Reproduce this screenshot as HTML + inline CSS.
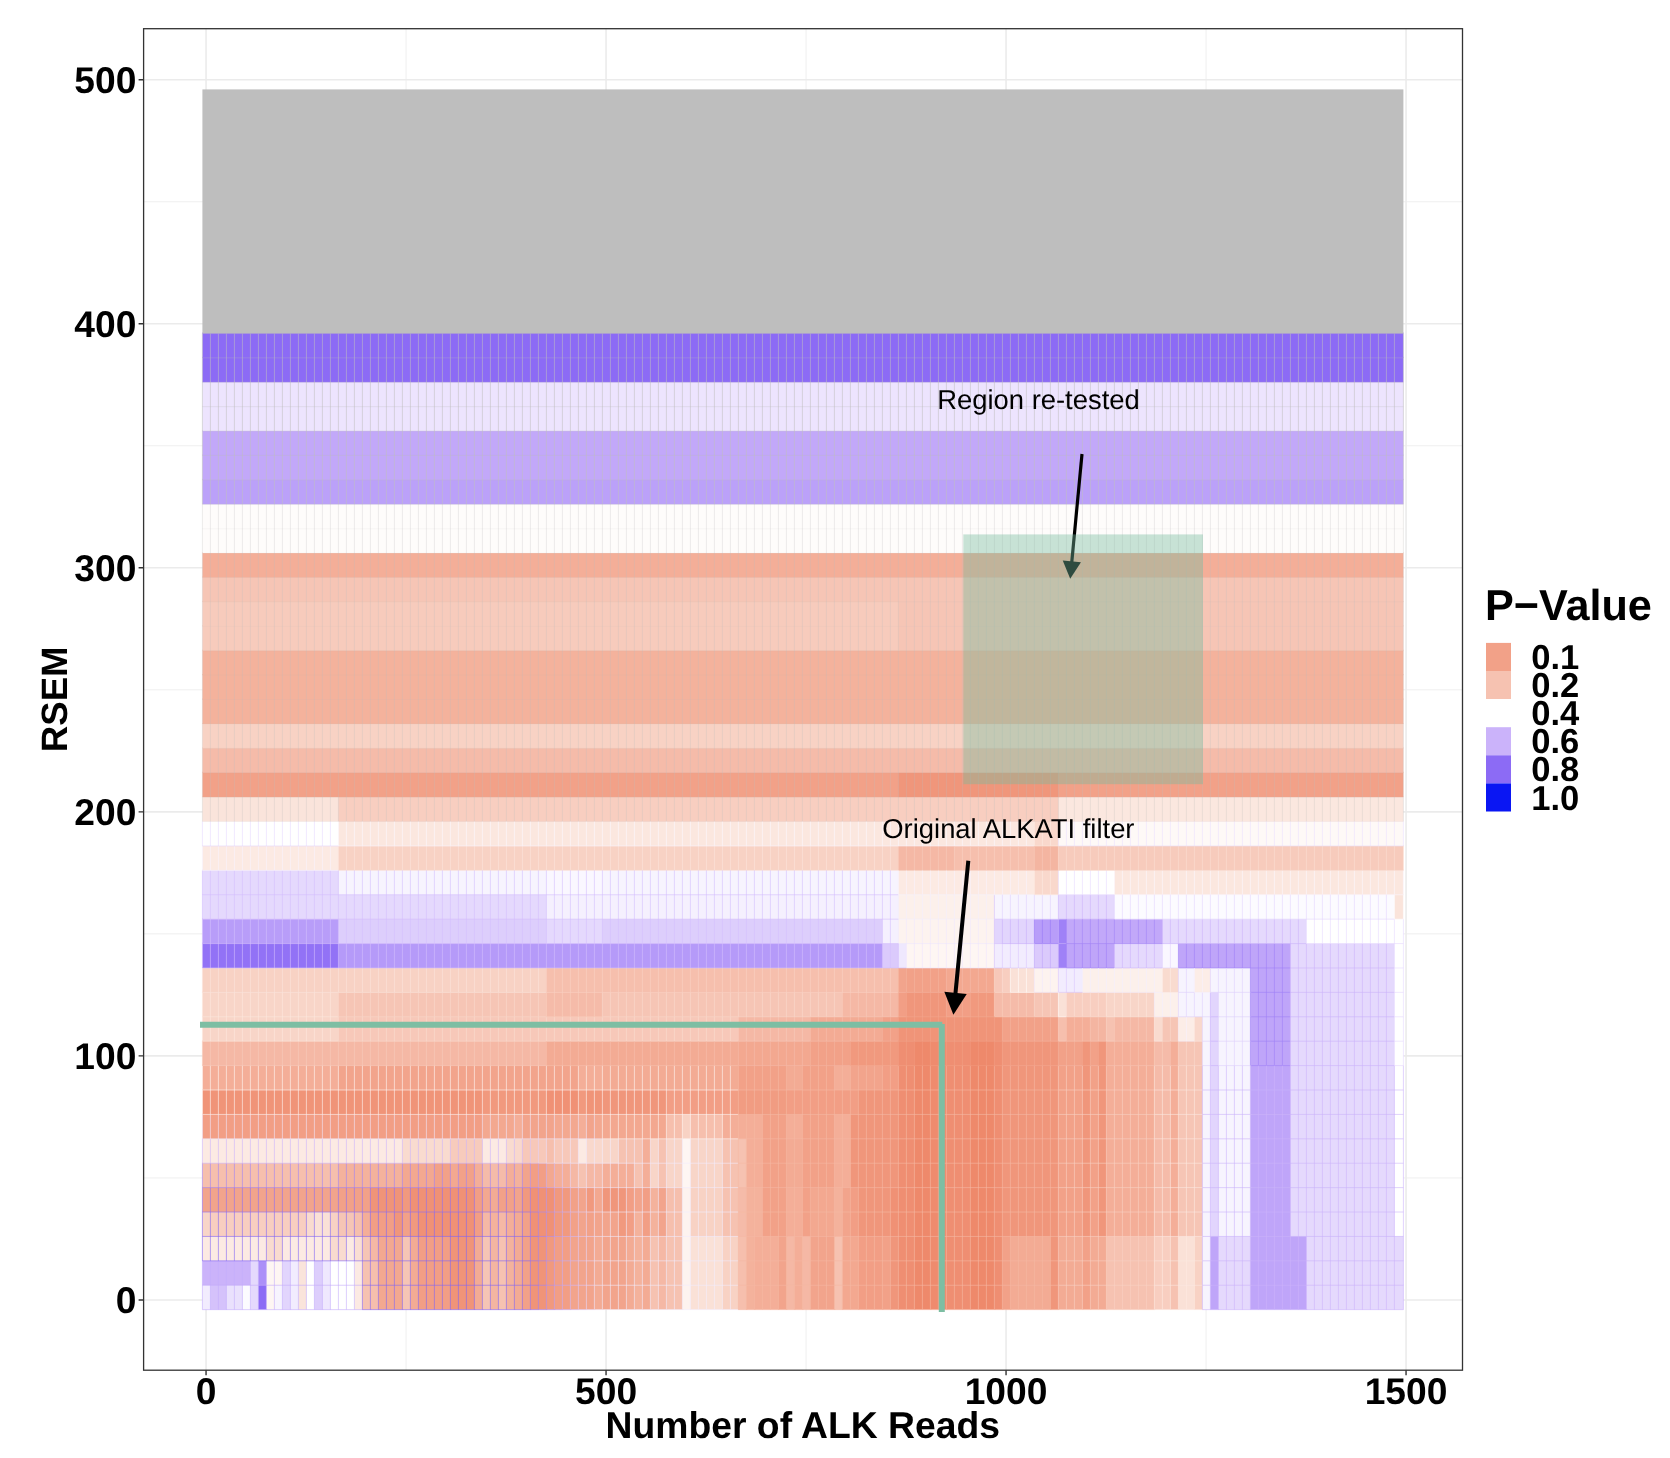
<!DOCTYPE html>
<html><head><meta charset="utf-8"><title>P-Value heatmap</title>
<style>
html,body{margin:0;padding:0;background:#fff}
svg{display:block}
text{font-family:"Liberation Sans",Arial,Helvetica,sans-serif;text-rendering:geometricPrecision}
svg{will-change:transform}
.b{font-weight:bold}
</style></head><body>
<svg width="1670" height="1458" viewBox="0 0 1670 1458">
<rect width="1670" height="1458" fill="#fff"/>
<g stroke="#ebebeb" fill="none">
<path stroke-width="0.8" d="M406.05 28.7V1370.2M806.05 28.7V1370.2M1206.05 28.7V1370.2M143.6 1177.91H1462.5M143.6 933.87H1462.5M143.6 689.82H1462.5M143.6 445.76H1462.5M143.6 201.71H1462.5"/>
<path stroke-width="1.6" d="M206.05 28.7V1370.2M606.05 28.7V1370.2M1006.05 28.7V1370.2M1406.05 28.7V1370.2M143.6 1299.94H1462.5M143.6 1055.89H1462.5M143.6 811.84H1462.5M143.6 567.79H1462.5M143.6 323.74H1462.5M143.6 79.69H1462.5"/>
</g>
<g id="tiles">
<rect x="202.4" y="1284.25" width="9" height="25.41" fill="#f2ecfe"/>
<rect x="210.4" y="1284.25" width="17" height="25.41" fill="#d5c2fb"/>
<rect x="226.4" y="1284.25" width="17" height="25.41" fill="#eae1fd"/>
<rect x="242.4" y="1284.25" width="9" height="25.41" fill="#fcfbff"/>
<rect x="250.4" y="1284.25" width="9" height="25.41" fill="#e5d9fd"/>
<rect x="258.4" y="1284.25" width="9" height="25.41" fill="#8c6bf5"/>
<rect x="266.4" y="1284.25" width="9" height="25.41" fill="#fef6f3"/>
<rect x="274.4" y="1284.25" width="9" height="25.41" fill="#f7f4fe"/>
<rect x="282.4" y="1284.25" width="9" height="25.41" fill="#e2d5fd"/>
<rect x="290.4" y="1284.25" width="9" height="25.41" fill="#f2ecfe"/>
<rect x="298.4" y="1284.25" width="9" height="25.41" fill="#fae4db"/>
<rect x="306.4" y="1284.25" width="9" height="25.41" fill="#ffffff"/>
<rect x="314.4" y="1284.25" width="9" height="25.41" fill="#ddcefc"/>
<rect x="322.4" y="1284.25" width="9" height="25.41" fill="#efe8fe"/>
<rect x="330.4" y="1284.25" width="25" height="25.41" fill="#ffffff"/>
<rect x="354.4" y="1284.25" width="9" height="25.41" fill="#fceae3"/>
<rect x="362.4" y="1284.25" width="9" height="25.41" fill="#f6c2b1"/>
<rect x="370.4" y="1284.25" width="9" height="25.41" fill="#f6bfad"/>
<rect x="378.4" y="1284.25" width="25" height="25.41" fill="#f3a890"/>
<rect x="402.4" y="1284.25" width="9" height="25.41" fill="#f6c5b5"/>
<rect x="410.4" y="1284.25" width="9" height="25.41" fill="#f3ab94"/>
<rect x="418.4" y="1284.25" width="33" height="25.41" fill="#f29e85"/>
<rect x="450.4" y="1284.25" width="25" height="25.41" fill="#f09478"/>
<rect x="474.4" y="1284.25" width="9" height="25.41" fill="#f3ab94"/>
<rect x="482.4" y="1284.25" width="9" height="25.41" fill="#f6c5b5"/>
<rect x="490.4" y="1284.25" width="9" height="25.41" fill="#f4b5a1"/>
<rect x="498.4" y="1284.25" width="9" height="25.41" fill="#f6c2b1"/>
<rect x="506.4" y="1284.25" width="9" height="25.41" fill="#f4b29c"/>
<rect x="514.4" y="1284.25" width="9" height="25.41" fill="#f3ab94"/>
<rect x="522.4" y="1284.25" width="9" height="25.41" fill="#f2a188"/>
<rect x="530.4" y="1284.25" width="17" height="25.41" fill="#f09478"/>
<rect x="546.4" y="1284.25" width="9" height="25.41" fill="#f1997e"/>
<rect x="554.4" y="1284.25" width="17" height="25.41" fill="#f29e85"/>
<rect x="570.4" y="1284.25" width="25" height="25.41" fill="#f2a48c"/>
<rect x="594.4" y="1284.25" width="9" height="25.41" fill="#f3ab94"/>
<rect x="602.4" y="1284.25" width="25" height="25.41" fill="#f2a48c"/>
<rect x="626.4" y="1284.25" width="9" height="25.41" fill="#f3ab94"/>
<rect x="634.4" y="1284.25" width="9" height="25.41" fill="#f4b29c"/>
<rect x="642.4" y="1284.25" width="9" height="25.41" fill="#f3ab94"/>
<rect x="650.4" y="1284.25" width="9" height="25.41" fill="#f6c2b1"/>
<rect x="658.4" y="1284.25" width="9" height="25.41" fill="#f5b8a5"/>
<rect x="666.4" y="1284.25" width="17" height="25.41" fill="#f6c2b1"/>
<rect x="682.4" y="1284.25" width="9" height="25.41" fill="#fdf3ef"/>
<rect x="690.4" y="1284.25" width="33" height="25.41" fill="#fae1d7"/>
<rect x="722.4" y="1284.25" width="17" height="25.41" fill="#f8d2c4"/>
<rect x="738.4" y="1284.25" width="9" height="25.41" fill="#f6bfad"/>
<rect x="746.4" y="1284.25" width="9" height="25.41" fill="#f4b29c"/>
<rect x="754.4" y="1284.25" width="25" height="25.41" fill="#f4ae98"/>
<rect x="778.4" y="1284.25" width="9" height="25.41" fill="#f2a48c"/>
<rect x="786.4" y="1284.25" width="9" height="25.41" fill="#f5b8a5"/>
<rect x="794.4" y="1284.25" width="9" height="25.41" fill="#f4ae98"/>
<rect x="802.4" y="1284.25" width="9" height="25.41" fill="#f5b8a5"/>
<rect x="810.4" y="1284.25" width="25" height="25.41" fill="#f2a48c"/>
<rect x="834.4" y="1284.25" width="9" height="25.41" fill="#f6c2b1"/>
<rect x="842.4" y="1284.25" width="17" height="25.41" fill="#f3a890"/>
<rect x="858.4" y="1284.25" width="25" height="25.41" fill="#f29e85"/>
<rect x="882.4" y="1284.25" width="9" height="25.41" fill="#f2a188"/>
<rect x="890.4" y="1284.25" width="9" height="25.41" fill="#f0967b"/>
<rect x="898.4" y="1284.25" width="17" height="25.41" fill="#ef8e72"/>
<rect x="914.4" y="1284.25" width="17" height="25.41" fill="#ee896b"/>
<rect x="930.4" y="1284.25" width="17" height="25.41" fill="#ef8b6e"/>
<rect x="946.4" y="1284.25" width="25" height="25.41" fill="#ef8e72"/>
<rect x="970.4" y="1284.25" width="25" height="25.41" fill="#ee896b"/>
<rect x="994.4" y="1284.25" width="9" height="25.41" fill="#ef8e72"/>
<rect x="1002.4" y="1284.25" width="9" height="25.41" fill="#f2a188"/>
<rect x="1010.4" y="1284.25" width="41" height="25.41" fill="#f3ab94"/>
<rect x="1050.4" y="1284.25" width="9" height="25.41" fill="#f0967b"/>
<rect x="1058.4" y="1284.25" width="25" height="25.41" fill="#f3ab94"/>
<rect x="1082.4" y="1284.25" width="9" height="25.41" fill="#f2a188"/>
<rect x="1090.4" y="1284.25" width="17" height="25.41" fill="#f3ab94"/>
<rect x="1106.4" y="1284.25" width="49" height="25.41" fill="#f6c2b1"/>
<rect x="1154.4" y="1284.25" width="17" height="25.41" fill="#f8cec0"/>
<rect x="1170.4" y="1284.25" width="9" height="25.41" fill="#f6c2b1"/>
<rect x="1178.4" y="1284.25" width="17" height="25.41" fill="#fae1d7"/>
<rect x="1194.4" y="1284.25" width="9" height="25.41" fill="#f8d2c4"/>
<rect x="1202.4" y="1284.25" width="9" height="25.41" fill="#f7f4fe"/>
<rect x="1210.4" y="1284.25" width="9" height="25.41" fill="#bfa5f9"/>
<rect x="1218.4" y="1284.25" width="33" height="25.41" fill="#e5d9fd"/>
<rect x="1250.4" y="1284.25" width="57" height="25.41" fill="#bfa5f9"/>
<rect x="1306.4" y="1284.25" width="97" height="25.41" fill="#e5d9fd"/>
<rect x="202.4" y="1259.84" width="49" height="25.41" fill="#cbb3fa"/>
<rect x="250.4" y="1259.84" width="9" height="25.41" fill="#e5d9fd"/>
<rect x="258.4" y="1259.84" width="9" height="25.41" fill="#ac8ff8"/>
<rect x="266.4" y="1259.84" width="17" height="25.41" fill="#fef6f3"/>
<rect x="282.4" y="1259.84" width="9" height="25.41" fill="#e2d5fd"/>
<rect x="290.4" y="1259.84" width="9" height="25.41" fill="#f2ecfe"/>
<rect x="298.4" y="1259.84" width="9" height="25.41" fill="#fae4db"/>
<rect x="306.4" y="1259.84" width="9" height="25.41" fill="#ffffff"/>
<rect x="314.4" y="1259.84" width="9" height="25.41" fill="#ddcefc"/>
<rect x="322.4" y="1259.84" width="9" height="25.41" fill="#efe8fe"/>
<rect x="330.4" y="1259.84" width="25" height="25.41" fill="#ffffff"/>
<rect x="354.4" y="1259.84" width="9" height="25.41" fill="#fceae3"/>
<rect x="362.4" y="1259.84" width="9" height="25.41" fill="#f6c2b1"/>
<rect x="370.4" y="1259.84" width="9" height="25.41" fill="#f6bfad"/>
<rect x="378.4" y="1259.84" width="25" height="25.41" fill="#f3a890"/>
<rect x="402.4" y="1259.84" width="9" height="25.41" fill="#f6c5b5"/>
<rect x="410.4" y="1259.84" width="9" height="25.41" fill="#f3ab94"/>
<rect x="418.4" y="1259.84" width="33" height="25.41" fill="#f29e85"/>
<rect x="450.4" y="1259.84" width="25" height="25.41" fill="#f09478"/>
<rect x="474.4" y="1259.84" width="9" height="25.41" fill="#f3ab94"/>
<rect x="482.4" y="1259.84" width="9" height="25.41" fill="#f6c5b5"/>
<rect x="490.4" y="1259.84" width="9" height="25.41" fill="#f4b5a1"/>
<rect x="498.4" y="1259.84" width="9" height="25.41" fill="#f6c2b1"/>
<rect x="506.4" y="1259.84" width="9" height="25.41" fill="#f4b29c"/>
<rect x="514.4" y="1259.84" width="9" height="25.41" fill="#f3ab94"/>
<rect x="522.4" y="1259.84" width="9" height="25.41" fill="#f2a188"/>
<rect x="530.4" y="1259.84" width="17" height="25.41" fill="#f09478"/>
<rect x="546.4" y="1259.84" width="9" height="25.41" fill="#f1997e"/>
<rect x="554.4" y="1259.84" width="17" height="25.41" fill="#f29e85"/>
<rect x="570.4" y="1259.84" width="25" height="25.41" fill="#f2a48c"/>
<rect x="594.4" y="1259.84" width="9" height="25.41" fill="#f3ab94"/>
<rect x="602.4" y="1259.84" width="25" height="25.41" fill="#f2a48c"/>
<rect x="626.4" y="1259.84" width="9" height="25.41" fill="#f3ab94"/>
<rect x="634.4" y="1259.84" width="9" height="25.41" fill="#f4b29c"/>
<rect x="642.4" y="1259.84" width="9" height="25.41" fill="#f3ab94"/>
<rect x="650.4" y="1259.84" width="9" height="25.41" fill="#f6c2b1"/>
<rect x="658.4" y="1259.84" width="9" height="25.41" fill="#f5b8a5"/>
<rect x="666.4" y="1259.84" width="17" height="25.41" fill="#f6c2b1"/>
<rect x="682.4" y="1259.84" width="9" height="25.41" fill="#fdf3ef"/>
<rect x="690.4" y="1259.84" width="33" height="25.41" fill="#fae1d7"/>
<rect x="722.4" y="1259.84" width="17" height="25.41" fill="#f8d2c4"/>
<rect x="738.4" y="1259.84" width="9" height="25.41" fill="#f6bfad"/>
<rect x="746.4" y="1259.84" width="9" height="25.41" fill="#f4b29c"/>
<rect x="754.4" y="1259.84" width="25" height="25.41" fill="#f4ae98"/>
<rect x="778.4" y="1259.84" width="9" height="25.41" fill="#f2a48c"/>
<rect x="786.4" y="1259.84" width="9" height="25.41" fill="#f5b8a5"/>
<rect x="794.4" y="1259.84" width="9" height="25.41" fill="#f4ae98"/>
<rect x="802.4" y="1259.84" width="9" height="25.41" fill="#f5b8a5"/>
<rect x="810.4" y="1259.84" width="25" height="25.41" fill="#f2a48c"/>
<rect x="834.4" y="1259.84" width="9" height="25.41" fill="#f6c2b1"/>
<rect x="842.4" y="1259.84" width="17" height="25.41" fill="#f3a890"/>
<rect x="858.4" y="1259.84" width="25" height="25.41" fill="#f29e85"/>
<rect x="882.4" y="1259.84" width="9" height="25.41" fill="#f2a188"/>
<rect x="890.4" y="1259.84" width="9" height="25.41" fill="#f0967b"/>
<rect x="898.4" y="1259.84" width="17" height="25.41" fill="#ef8e72"/>
<rect x="914.4" y="1259.84" width="17" height="25.41" fill="#ee896b"/>
<rect x="930.4" y="1259.84" width="17" height="25.41" fill="#ef8b6e"/>
<rect x="946.4" y="1259.84" width="25" height="25.41" fill="#ef8e72"/>
<rect x="970.4" y="1259.84" width="25" height="25.41" fill="#ee896b"/>
<rect x="994.4" y="1259.84" width="9" height="25.41" fill="#ef8e72"/>
<rect x="1002.4" y="1259.84" width="9" height="25.41" fill="#f2a188"/>
<rect x="1010.4" y="1259.84" width="41" height="25.41" fill="#f3ab94"/>
<rect x="1050.4" y="1259.84" width="9" height="25.41" fill="#f0967b"/>
<rect x="1058.4" y="1259.84" width="25" height="25.41" fill="#f3ab94"/>
<rect x="1082.4" y="1259.84" width="9" height="25.41" fill="#f2a188"/>
<rect x="1090.4" y="1259.84" width="17" height="25.41" fill="#f3ab94"/>
<rect x="1106.4" y="1259.84" width="49" height="25.41" fill="#f6c2b1"/>
<rect x="1154.4" y="1259.84" width="17" height="25.41" fill="#f8cec0"/>
<rect x="1170.4" y="1259.84" width="9" height="25.41" fill="#f6c2b1"/>
<rect x="1178.4" y="1259.84" width="17" height="25.41" fill="#fae1d7"/>
<rect x="1194.4" y="1259.84" width="9" height="25.41" fill="#f8d2c4"/>
<rect x="1202.4" y="1259.84" width="9" height="25.41" fill="#f7f4fe"/>
<rect x="1210.4" y="1259.84" width="9" height="25.41" fill="#bfa5f9"/>
<rect x="1218.4" y="1259.84" width="33" height="25.41" fill="#e5d9fd"/>
<rect x="1250.4" y="1259.84" width="57" height="25.41" fill="#bfa5f9"/>
<rect x="1306.4" y="1259.84" width="97" height="25.41" fill="#e5d9fd"/>
<rect x="202.4" y="1235.44" width="65" height="25.41" fill="#fceae3"/>
<rect x="266.4" y="1235.44" width="17" height="25.41" fill="#f9dbcf"/>
<rect x="282.4" y="1235.44" width="49" height="25.41" fill="#fceae3"/>
<rect x="330.4" y="1235.44" width="17" height="25.41" fill="#f9dbcf"/>
<rect x="346.4" y="1235.44" width="9" height="25.41" fill="#fceae3"/>
<rect x="354.4" y="1235.44" width="9" height="25.41" fill="#faded3"/>
<rect x="362.4" y="1235.44" width="9" height="25.41" fill="#f6c5b5"/>
<rect x="370.4" y="1235.44" width="9" height="25.41" fill="#f5b8a5"/>
<rect x="378.4" y="1235.44" width="25" height="25.41" fill="#f3a890"/>
<rect x="402.4" y="1235.44" width="9" height="25.41" fill="#f6c5b5"/>
<rect x="410.4" y="1235.44" width="9" height="25.41" fill="#f3ab94"/>
<rect x="418.4" y="1235.44" width="33" height="25.41" fill="#f29e85"/>
<rect x="450.4" y="1235.44" width="25" height="25.41" fill="#f09478"/>
<rect x="474.4" y="1235.44" width="9" height="25.41" fill="#f3ab94"/>
<rect x="482.4" y="1235.44" width="9" height="25.41" fill="#f6c5b5"/>
<rect x="490.4" y="1235.44" width="9" height="25.41" fill="#f4b5a1"/>
<rect x="498.4" y="1235.44" width="9" height="25.41" fill="#f6c2b1"/>
<rect x="506.4" y="1235.44" width="9" height="25.41" fill="#f4b29c"/>
<rect x="514.4" y="1235.44" width="9" height="25.41" fill="#f3ab94"/>
<rect x="522.4" y="1235.44" width="9" height="25.41" fill="#f2a188"/>
<rect x="530.4" y="1235.44" width="17" height="25.41" fill="#f09478"/>
<rect x="546.4" y="1235.44" width="9" height="25.41" fill="#f1997e"/>
<rect x="554.4" y="1235.44" width="17" height="25.41" fill="#f29e85"/>
<rect x="570.4" y="1235.44" width="25" height="25.41" fill="#f2a48c"/>
<rect x="594.4" y="1235.44" width="9" height="25.41" fill="#f3ab94"/>
<rect x="602.4" y="1235.44" width="25" height="25.41" fill="#f2a48c"/>
<rect x="626.4" y="1235.44" width="9" height="25.41" fill="#f3ab94"/>
<rect x="634.4" y="1235.44" width="9" height="25.41" fill="#f4b29c"/>
<rect x="642.4" y="1235.44" width="9" height="25.41" fill="#f3ab94"/>
<rect x="650.4" y="1235.44" width="9" height="25.41" fill="#f6c2b1"/>
<rect x="658.4" y="1235.44" width="9" height="25.41" fill="#f5b8a5"/>
<rect x="666.4" y="1235.44" width="17" height="25.41" fill="#f6c2b1"/>
<rect x="682.4" y="1235.44" width="9" height="25.41" fill="#fdf3ef"/>
<rect x="690.4" y="1235.44" width="33" height="25.41" fill="#fae1d7"/>
<rect x="722.4" y="1235.44" width="17" height="25.41" fill="#f8d2c4"/>
<rect x="738.4" y="1235.44" width="9" height="25.41" fill="#f6bfad"/>
<rect x="746.4" y="1235.44" width="9" height="25.41" fill="#f4b29c"/>
<rect x="754.4" y="1235.44" width="25" height="25.41" fill="#f4ae98"/>
<rect x="778.4" y="1235.44" width="9" height="25.41" fill="#f2a48c"/>
<rect x="786.4" y="1235.44" width="9" height="25.41" fill="#f5b8a5"/>
<rect x="794.4" y="1235.44" width="9" height="25.41" fill="#f4ae98"/>
<rect x="802.4" y="1235.44" width="9" height="25.41" fill="#f5b8a5"/>
<rect x="810.4" y="1235.44" width="25" height="25.41" fill="#f2a48c"/>
<rect x="834.4" y="1235.44" width="9" height="25.41" fill="#f6c2b1"/>
<rect x="842.4" y="1235.44" width="17" height="25.41" fill="#f3a890"/>
<rect x="858.4" y="1235.44" width="25" height="25.41" fill="#f29e85"/>
<rect x="882.4" y="1235.44" width="9" height="25.41" fill="#f2a188"/>
<rect x="890.4" y="1235.44" width="9" height="25.41" fill="#f0967b"/>
<rect x="898.4" y="1235.44" width="17" height="25.41" fill="#ef8e72"/>
<rect x="914.4" y="1235.44" width="17" height="25.41" fill="#ee896b"/>
<rect x="930.4" y="1235.44" width="17" height="25.41" fill="#ef8b6e"/>
<rect x="946.4" y="1235.44" width="25" height="25.41" fill="#ef8e72"/>
<rect x="970.4" y="1235.44" width="25" height="25.41" fill="#ee896b"/>
<rect x="994.4" y="1235.44" width="9" height="25.41" fill="#ef8e72"/>
<rect x="1002.4" y="1235.44" width="9" height="25.41" fill="#f2a188"/>
<rect x="1010.4" y="1235.44" width="41" height="25.41" fill="#f3ab94"/>
<rect x="1050.4" y="1235.44" width="9" height="25.41" fill="#f0967b"/>
<rect x="1058.4" y="1235.44" width="25" height="25.41" fill="#f3ab94"/>
<rect x="1082.4" y="1235.44" width="9" height="25.41" fill="#f2a188"/>
<rect x="1090.4" y="1235.44" width="17" height="25.41" fill="#f3ab94"/>
<rect x="1106.4" y="1235.44" width="49" height="25.41" fill="#f6c2b1"/>
<rect x="1154.4" y="1235.44" width="17" height="25.41" fill="#f8cec0"/>
<rect x="1170.4" y="1235.44" width="9" height="25.41" fill="#f6c2b1"/>
<rect x="1178.4" y="1235.44" width="17" height="25.41" fill="#fae1d7"/>
<rect x="1194.4" y="1235.44" width="9" height="25.41" fill="#f8d2c4"/>
<rect x="1202.4" y="1235.44" width="9" height="25.41" fill="#f7f4fe"/>
<rect x="1210.4" y="1235.44" width="9" height="25.41" fill="#bfa5f9"/>
<rect x="1218.4" y="1235.44" width="33" height="25.41" fill="#e5d9fd"/>
<rect x="1250.4" y="1235.44" width="57" height="25.41" fill="#bfa5f9"/>
<rect x="1306.4" y="1235.44" width="97" height="25.41" fill="#e5d9fd"/>
<rect x="202.4" y="1211.03" width="9" height="25.41" fill="#f8d5c8"/>
<rect x="210.4" y="1211.03" width="97" height="25.41" fill="#f8cec0"/>
<rect x="306.4" y="1211.03" width="9" height="25.41" fill="#f9dbcf"/>
<rect x="314.4" y="1211.03" width="17" height="25.41" fill="#fae1d7"/>
<rect x="330.4" y="1211.03" width="9" height="25.41" fill="#f8d2c4"/>
<rect x="338.4" y="1211.03" width="17" height="25.41" fill="#f6c5b5"/>
<rect x="354.4" y="1211.03" width="9" height="25.41" fill="#f6bfad"/>
<rect x="362.4" y="1211.03" width="9" height="25.41" fill="#f4ae98"/>
<rect x="370.4" y="1211.03" width="25" height="25.41" fill="#f29e85"/>
<rect x="394.4" y="1211.03" width="9" height="25.41" fill="#f0967b"/>
<rect x="402.4" y="1211.03" width="9" height="25.41" fill="#f2a188"/>
<rect x="410.4" y="1211.03" width="9" height="25.41" fill="#f1997e"/>
<rect x="418.4" y="1211.03" width="57" height="25.41" fill="#f09175"/>
<rect x="474.4" y="1211.03" width="9" height="25.41" fill="#f29e85"/>
<rect x="482.4" y="1211.03" width="9" height="25.41" fill="#f5b8a5"/>
<rect x="490.4" y="1211.03" width="9" height="25.41" fill="#f4b29c"/>
<rect x="498.4" y="1211.03" width="9" height="25.41" fill="#f5b8a5"/>
<rect x="506.4" y="1211.03" width="9" height="25.41" fill="#f4ae98"/>
<rect x="514.4" y="1211.03" width="9" height="25.41" fill="#f3ab94"/>
<rect x="522.4" y="1211.03" width="9" height="25.41" fill="#f2a188"/>
<rect x="530.4" y="1211.03" width="25" height="25.41" fill="#f09175"/>
<rect x="554.4" y="1211.03" width="17" height="25.41" fill="#f1997e"/>
<rect x="570.4" y="1211.03" width="9" height="25.41" fill="#f2a188"/>
<rect x="578.4" y="1211.03" width="9" height="25.41" fill="#f2a48c"/>
<rect x="586.4" y="1211.03" width="9" height="25.41" fill="#f2a188"/>
<rect x="594.4" y="1211.03" width="25" height="25.41" fill="#f2a48c"/>
<rect x="618.4" y="1211.03" width="9" height="25.41" fill="#f1997e"/>
<rect x="626.4" y="1211.03" width="9" height="25.41" fill="#f29e85"/>
<rect x="634.4" y="1211.03" width="9" height="25.41" fill="#f4b29c"/>
<rect x="642.4" y="1211.03" width="9" height="25.41" fill="#f29e85"/>
<rect x="650.4" y="1211.03" width="9" height="25.41" fill="#f4b29c"/>
<rect x="658.4" y="1211.03" width="9" height="25.41" fill="#f2a48c"/>
<rect x="666.4" y="1211.03" width="17" height="25.41" fill="#f6bfad"/>
<rect x="682.4" y="1211.03" width="9" height="25.41" fill="#fdf3ef"/>
<rect x="690.4" y="1211.03" width="33" height="25.41" fill="#f8d2c4"/>
<rect x="722.4" y="1211.03" width="17" height="25.41" fill="#f6c2b1"/>
<rect x="738.4" y="1211.03" width="9" height="25.41" fill="#f5bba9"/>
<rect x="746.4" y="1211.03" width="17" height="25.41" fill="#f4b29c"/>
<rect x="762.4" y="1211.03" width="25" height="25.41" fill="#f2a188"/>
<rect x="786.4" y="1211.03" width="17" height="25.41" fill="#f4ae98"/>
<rect x="802.4" y="1211.03" width="9" height="25.41" fill="#f2a188"/>
<rect x="810.4" y="1211.03" width="25" height="25.41" fill="#f3a890"/>
<rect x="834.4" y="1211.03" width="9" height="25.41" fill="#f4b29c"/>
<rect x="842.4" y="1211.03" width="9" height="25.41" fill="#f2a48c"/>
<rect x="850.4" y="1211.03" width="9" height="25.41" fill="#f29e85"/>
<rect x="858.4" y="1211.03" width="33" height="25.41" fill="#f0967b"/>
<rect x="890.4" y="1211.03" width="9" height="25.41" fill="#f09175"/>
<rect x="898.4" y="1211.03" width="17" height="25.41" fill="#ef8e72"/>
<rect x="914.4" y="1211.03" width="17" height="25.41" fill="#ee896b"/>
<rect x="930.4" y="1211.03" width="17" height="25.41" fill="#ef8b6e"/>
<rect x="946.4" y="1211.03" width="25" height="25.41" fill="#ef8e72"/>
<rect x="970.4" y="1211.03" width="25" height="25.41" fill="#ee896b"/>
<rect x="994.4" y="1211.03" width="9" height="25.41" fill="#ef8e72"/>
<rect x="1002.4" y="1211.03" width="57" height="25.41" fill="#f0967b"/>
<rect x="1058.4" y="1211.03" width="25" height="25.41" fill="#f2a188"/>
<rect x="1082.4" y="1211.03" width="9" height="25.41" fill="#f0967b"/>
<rect x="1090.4" y="1211.03" width="9" height="25.41" fill="#f2a188"/>
<rect x="1098.4" y="1211.03" width="9" height="25.41" fill="#f0967b"/>
<rect x="1106.4" y="1211.03" width="49" height="25.41" fill="#f4ae98"/>
<rect x="1154.4" y="1211.03" width="17" height="25.41" fill="#f5bba9"/>
<rect x="1170.4" y="1211.03" width="9" height="25.41" fill="#f4ae98"/>
<rect x="1178.4" y="1211.03" width="25" height="25.41" fill="#f6c5b5"/>
<rect x="1202.4" y="1211.03" width="9" height="25.41" fill="#f7f4fe"/>
<rect x="1210.4" y="1211.03" width="9" height="25.41" fill="#e2d5fd"/>
<rect x="1218.4" y="1211.03" width="33" height="25.41" fill="#f7f4fe"/>
<rect x="1250.4" y="1211.03" width="41" height="25.41" fill="#bfa5f9"/>
<rect x="1290.4" y="1211.03" width="105" height="25.41" fill="#e5d9fd"/>
<rect x="1394.4" y="1211.03" width="9" height="25.41" fill="#ffffff"/>
<rect x="202.4" y="1186.62" width="137" height="25.41" fill="#f2a48c"/>
<rect x="338.4" y="1186.62" width="33" height="25.41" fill="#f2a188"/>
<rect x="370.4" y="1186.62" width="33" height="25.41" fill="#f09478"/>
<rect x="402.4" y="1186.62" width="9" height="25.41" fill="#f1997e"/>
<rect x="410.4" y="1186.62" width="65" height="25.41" fill="#f09175"/>
<rect x="474.4" y="1186.62" width="9" height="25.41" fill="#f29e85"/>
<rect x="482.4" y="1186.62" width="9" height="25.41" fill="#f3a890"/>
<rect x="490.4" y="1186.62" width="9" height="25.41" fill="#f3ab94"/>
<rect x="498.4" y="1186.62" width="17" height="25.41" fill="#f2a188"/>
<rect x="514.4" y="1186.62" width="9" height="25.41" fill="#f2a48c"/>
<rect x="522.4" y="1186.62" width="9" height="25.41" fill="#f1997e"/>
<rect x="530.4" y="1186.62" width="25" height="25.41" fill="#f09175"/>
<rect x="554.4" y="1186.62" width="17" height="25.41" fill="#f1997e"/>
<rect x="570.4" y="1186.62" width="9" height="25.41" fill="#f2a188"/>
<rect x="578.4" y="1186.62" width="9" height="25.41" fill="#f2a48c"/>
<rect x="586.4" y="1186.62" width="9" height="25.41" fill="#f1997e"/>
<rect x="594.4" y="1186.62" width="9" height="25.41" fill="#f3a890"/>
<rect x="602.4" y="1186.62" width="25" height="25.41" fill="#f0967b"/>
<rect x="626.4" y="1186.62" width="9" height="25.41" fill="#f29e85"/>
<rect x="634.4" y="1186.62" width="9" height="25.41" fill="#f2a48c"/>
<rect x="642.4" y="1186.62" width="9" height="25.41" fill="#f29e85"/>
<rect x="650.4" y="1186.62" width="9" height="25.41" fill="#f4b29c"/>
<rect x="658.4" y="1186.62" width="9" height="25.41" fill="#f2a48c"/>
<rect x="666.4" y="1186.62" width="17" height="25.41" fill="#f6bfad"/>
<rect x="682.4" y="1186.62" width="9" height="25.41" fill="#fdf3ef"/>
<rect x="690.4" y="1186.62" width="33" height="25.41" fill="#f8d2c4"/>
<rect x="722.4" y="1186.62" width="17" height="25.41" fill="#f6c2b1"/>
<rect x="738.4" y="1186.62" width="9" height="25.41" fill="#f5bba9"/>
<rect x="746.4" y="1186.62" width="17" height="25.41" fill="#f4b29c"/>
<rect x="762.4" y="1186.62" width="25" height="25.41" fill="#f2a188"/>
<rect x="786.4" y="1186.62" width="17" height="25.41" fill="#f4ae98"/>
<rect x="802.4" y="1186.62" width="9" height="25.41" fill="#f2a188"/>
<rect x="810.4" y="1186.62" width="25" height="25.41" fill="#f3a890"/>
<rect x="834.4" y="1186.62" width="9" height="25.41" fill="#f4b29c"/>
<rect x="842.4" y="1186.62" width="9" height="25.41" fill="#f2a48c"/>
<rect x="850.4" y="1186.62" width="9" height="25.41" fill="#f29e85"/>
<rect x="858.4" y="1186.62" width="33" height="25.41" fill="#f0967b"/>
<rect x="890.4" y="1186.62" width="9" height="25.41" fill="#f09175"/>
<rect x="898.4" y="1186.62" width="17" height="25.41" fill="#ef8e72"/>
<rect x="914.4" y="1186.62" width="17" height="25.41" fill="#ee896b"/>
<rect x="930.4" y="1186.62" width="17" height="25.41" fill="#ef8b6e"/>
<rect x="946.4" y="1186.62" width="25" height="25.41" fill="#ef8e72"/>
<rect x="970.4" y="1186.62" width="25" height="25.41" fill="#ee896b"/>
<rect x="994.4" y="1186.62" width="9" height="25.41" fill="#ef8e72"/>
<rect x="1002.4" y="1186.62" width="57" height="25.41" fill="#f0967b"/>
<rect x="1058.4" y="1186.62" width="25" height="25.41" fill="#f2a188"/>
<rect x="1082.4" y="1186.62" width="9" height="25.41" fill="#f0967b"/>
<rect x="1090.4" y="1186.62" width="9" height="25.41" fill="#f2a188"/>
<rect x="1098.4" y="1186.62" width="9" height="25.41" fill="#f0967b"/>
<rect x="1106.4" y="1186.62" width="49" height="25.41" fill="#f4ae98"/>
<rect x="1154.4" y="1186.62" width="17" height="25.41" fill="#f5bba9"/>
<rect x="1170.4" y="1186.62" width="9" height="25.41" fill="#f4ae98"/>
<rect x="1178.4" y="1186.62" width="25" height="25.41" fill="#f6c5b5"/>
<rect x="1202.4" y="1186.62" width="9" height="25.41" fill="#f7f4fe"/>
<rect x="1210.4" y="1186.62" width="9" height="25.41" fill="#e2d5fd"/>
<rect x="1218.4" y="1186.62" width="33" height="25.41" fill="#f7f4fe"/>
<rect x="1250.4" y="1186.62" width="41" height="25.41" fill="#bfa5f9"/>
<rect x="1290.4" y="1186.62" width="105" height="25.41" fill="#e5d9fd"/>
<rect x="1394.4" y="1186.62" width="9" height="25.41" fill="#ffffff"/>
<rect x="202.4" y="1162.22" width="137" height="25.41" fill="#f6bfad"/>
<rect x="338.4" y="1162.22" width="65" height="25.41" fill="#f4b29c"/>
<rect x="402.4" y="1162.22" width="33" height="25.41" fill="#f3a890"/>
<rect x="434.4" y="1162.22" width="17" height="25.41" fill="#f2a188"/>
<rect x="450.4" y="1162.22" width="9" height="25.41" fill="#f3a890"/>
<rect x="458.4" y="1162.22" width="17" height="25.41" fill="#f2a188"/>
<rect x="474.4" y="1162.22" width="9" height="25.41" fill="#f4ae98"/>
<rect x="482.4" y="1162.22" width="25" height="25.41" fill="#f5bba9"/>
<rect x="506.4" y="1162.22" width="9" height="25.41" fill="#f4ae98"/>
<rect x="514.4" y="1162.22" width="9" height="25.41" fill="#f4b29c"/>
<rect x="522.4" y="1162.22" width="9" height="25.41" fill="#f2a48c"/>
<rect x="530.4" y="1162.22" width="17" height="25.41" fill="#f29e85"/>
<rect x="546.4" y="1162.22" width="9" height="25.41" fill="#f3a890"/>
<rect x="554.4" y="1162.22" width="17" height="25.41" fill="#f4ae98"/>
<rect x="570.4" y="1162.22" width="9" height="25.41" fill="#f5b8a5"/>
<rect x="578.4" y="1162.22" width="9" height="25.41" fill="#f6c2b1"/>
<rect x="586.4" y="1162.22" width="17" height="25.41" fill="#f5b8a5"/>
<rect x="602.4" y="1162.22" width="33" height="25.41" fill="#f4ae98"/>
<rect x="634.4" y="1162.22" width="9" height="25.41" fill="#f6c2b1"/>
<rect x="642.4" y="1162.22" width="9" height="25.41" fill="#f4ae98"/>
<rect x="650.4" y="1162.22" width="9" height="25.41" fill="#f8d5c8"/>
<rect x="658.4" y="1162.22" width="9" height="25.41" fill="#f6c2b1"/>
<rect x="666.4" y="1162.22" width="17" height="25.41" fill="#f8d5c8"/>
<rect x="682.4" y="1162.22" width="9" height="25.41" fill="#fef6f3"/>
<rect x="690.4" y="1162.22" width="33" height="25.41" fill="#f8d5c8"/>
<rect x="722.4" y="1162.22" width="25" height="25.41" fill="#f6c2b1"/>
<rect x="746.4" y="1162.22" width="17" height="25.41" fill="#f4ae98"/>
<rect x="762.4" y="1162.22" width="25" height="25.41" fill="#f2a188"/>
<rect x="786.4" y="1162.22" width="17" height="25.41" fill="#f3ab94"/>
<rect x="802.4" y="1162.22" width="33" height="25.41" fill="#f2a188"/>
<rect x="834.4" y="1162.22" width="17" height="25.41" fill="#f4ae98"/>
<rect x="850.4" y="1162.22" width="49" height="25.41" fill="#f0967b"/>
<rect x="898.4" y="1162.22" width="17" height="25.41" fill="#ef8e72"/>
<rect x="914.4" y="1162.22" width="17" height="25.41" fill="#ee896b"/>
<rect x="930.4" y="1162.22" width="17" height="25.41" fill="#ef8b6e"/>
<rect x="946.4" y="1162.22" width="25" height="25.41" fill="#ef8e72"/>
<rect x="970.4" y="1162.22" width="25" height="25.41" fill="#ee896b"/>
<rect x="994.4" y="1162.22" width="9" height="25.41" fill="#ef8e72"/>
<rect x="1002.4" y="1162.22" width="57" height="25.41" fill="#f0967b"/>
<rect x="1058.4" y="1162.22" width="25" height="25.41" fill="#f2a188"/>
<rect x="1082.4" y="1162.22" width="9" height="25.41" fill="#f0967b"/>
<rect x="1090.4" y="1162.22" width="9" height="25.41" fill="#f2a188"/>
<rect x="1098.4" y="1162.22" width="9" height="25.41" fill="#f0967b"/>
<rect x="1106.4" y="1162.22" width="49" height="25.41" fill="#f4ae98"/>
<rect x="1154.4" y="1162.22" width="17" height="25.41" fill="#f5bba9"/>
<rect x="1170.4" y="1162.22" width="9" height="25.41" fill="#f4ae98"/>
<rect x="1178.4" y="1162.22" width="25" height="25.41" fill="#f6c5b5"/>
<rect x="1202.4" y="1162.22" width="9" height="25.41" fill="#f7f4fe"/>
<rect x="1210.4" y="1162.22" width="9" height="25.41" fill="#e2d5fd"/>
<rect x="1218.4" y="1162.22" width="33" height="25.41" fill="#f7f4fe"/>
<rect x="1250.4" y="1162.22" width="41" height="25.41" fill="#bfa5f9"/>
<rect x="1290.4" y="1162.22" width="105" height="25.41" fill="#e5d9fd"/>
<rect x="1394.4" y="1162.22" width="9" height="25.41" fill="#ffffff"/>
<rect x="202.4" y="1137.82" width="201" height="25.41" fill="#fceae3"/>
<rect x="402.4" y="1137.82" width="49" height="25.41" fill="#f9dbcf"/>
<rect x="450.4" y="1137.82" width="33" height="25.41" fill="#f7cbbc"/>
<rect x="482.4" y="1137.82" width="25" height="25.41" fill="#fceae3"/>
<rect x="506.4" y="1137.82" width="9" height="25.41" fill="#f9dbcf"/>
<rect x="514.4" y="1137.82" width="9" height="25.41" fill="#f9d8cc"/>
<rect x="522.4" y="1137.82" width="25" height="25.41" fill="#f7c8b9"/>
<rect x="546.4" y="1137.82" width="9" height="25.41" fill="#f6bfad"/>
<rect x="554.4" y="1137.82" width="25" height="25.41" fill="#f7c8b9"/>
<rect x="578.4" y="1137.82" width="9" height="25.41" fill="#fceae3"/>
<rect x="586.4" y="1137.82" width="17" height="25.41" fill="#f9d8cc"/>
<rect x="602.4" y="1137.82" width="17" height="25.41" fill="#f8d5c8"/>
<rect x="618.4" y="1137.82" width="25" height="25.41" fill="#f6c2b1"/>
<rect x="642.4" y="1137.82" width="9" height="25.41" fill="#f4ae98"/>
<rect x="650.4" y="1137.82" width="9" height="25.41" fill="#f8d5c8"/>
<rect x="658.4" y="1137.82" width="9" height="25.41" fill="#f6c2b1"/>
<rect x="666.4" y="1137.82" width="17" height="25.41" fill="#f8d5c8"/>
<rect x="682.4" y="1137.82" width="9" height="25.41" fill="#fef6f3"/>
<rect x="690.4" y="1137.82" width="33" height="25.41" fill="#f8d5c8"/>
<rect x="722.4" y="1137.82" width="25" height="25.41" fill="#f6c2b1"/>
<rect x="746.4" y="1137.82" width="17" height="25.41" fill="#f4ae98"/>
<rect x="762.4" y="1137.82" width="25" height="25.41" fill="#f2a188"/>
<rect x="786.4" y="1137.82" width="17" height="25.41" fill="#f3ab94"/>
<rect x="802.4" y="1137.82" width="33" height="25.41" fill="#f2a188"/>
<rect x="834.4" y="1137.82" width="17" height="25.41" fill="#f4ae98"/>
<rect x="850.4" y="1137.82" width="49" height="25.41" fill="#f0967b"/>
<rect x="898.4" y="1137.82" width="17" height="25.41" fill="#ef8e72"/>
<rect x="914.4" y="1137.82" width="17" height="25.41" fill="#ee896b"/>
<rect x="930.4" y="1137.82" width="17" height="25.41" fill="#ef8b6e"/>
<rect x="946.4" y="1137.82" width="25" height="25.41" fill="#ef8e72"/>
<rect x="970.4" y="1137.82" width="25" height="25.41" fill="#ee896b"/>
<rect x="994.4" y="1137.82" width="9" height="25.41" fill="#ef8e72"/>
<rect x="1002.4" y="1137.82" width="57" height="25.41" fill="#f0967b"/>
<rect x="1058.4" y="1137.82" width="25" height="25.41" fill="#f2a188"/>
<rect x="1082.4" y="1137.82" width="9" height="25.41" fill="#f0967b"/>
<rect x="1090.4" y="1137.82" width="9" height="25.41" fill="#f2a188"/>
<rect x="1098.4" y="1137.82" width="9" height="25.41" fill="#f0967b"/>
<rect x="1106.4" y="1137.82" width="49" height="25.41" fill="#f4ae98"/>
<rect x="1154.4" y="1137.82" width="17" height="25.41" fill="#f5bba9"/>
<rect x="1170.4" y="1137.82" width="9" height="25.41" fill="#f4ae98"/>
<rect x="1178.4" y="1137.82" width="25" height="25.41" fill="#f6c5b5"/>
<rect x="1202.4" y="1137.82" width="9" height="25.41" fill="#f7f4fe"/>
<rect x="1210.4" y="1137.82" width="9" height="25.41" fill="#e2d5fd"/>
<rect x="1218.4" y="1137.82" width="33" height="25.41" fill="#f7f4fe"/>
<rect x="1250.4" y="1137.82" width="41" height="25.41" fill="#bfa5f9"/>
<rect x="1290.4" y="1137.82" width="105" height="25.41" fill="#e5d9fd"/>
<rect x="1394.4" y="1137.82" width="9" height="25.41" fill="#ffffff"/>
<rect x="202.4" y="1113.41" width="281" height="25.41" fill="#f29e85"/>
<rect x="482.4" y="1113.41" width="33" height="25.41" fill="#f3a890"/>
<rect x="514.4" y="1113.41" width="9" height="25.41" fill="#f4ae98"/>
<rect x="522.4" y="1113.41" width="33" height="25.41" fill="#f2a48c"/>
<rect x="554.4" y="1113.41" width="25" height="25.41" fill="#f3a890"/>
<rect x="578.4" y="1113.41" width="9" height="25.41" fill="#f4ae98"/>
<rect x="586.4" y="1113.41" width="9" height="25.41" fill="#f2a48c"/>
<rect x="594.4" y="1113.41" width="73" height="25.41" fill="#f3a890"/>
<rect x="666.4" y="1113.41" width="17" height="25.41" fill="#f6bfad"/>
<rect x="682.4" y="1113.41" width="9" height="25.41" fill="#f8d2c4"/>
<rect x="690.4" y="1113.41" width="33" height="25.41" fill="#f6bfad"/>
<rect x="722.4" y="1113.41" width="41" height="25.41" fill="#f4ae98"/>
<rect x="762.4" y="1113.41" width="25" height="25.41" fill="#f2a188"/>
<rect x="786.4" y="1113.41" width="17" height="25.41" fill="#f4ae98"/>
<rect x="802.4" y="1113.41" width="33" height="25.41" fill="#f2a188"/>
<rect x="834.4" y="1113.41" width="17" height="25.41" fill="#f4ae98"/>
<rect x="850.4" y="1113.41" width="49" height="25.41" fill="#f0967b"/>
<rect x="898.4" y="1113.41" width="17" height="25.41" fill="#ef8e72"/>
<rect x="914.4" y="1113.41" width="17" height="25.41" fill="#ee896b"/>
<rect x="930.4" y="1113.41" width="17" height="25.41" fill="#ef8b6e"/>
<rect x="946.4" y="1113.41" width="25" height="25.41" fill="#ef8e72"/>
<rect x="970.4" y="1113.41" width="25" height="25.41" fill="#ee896b"/>
<rect x="994.4" y="1113.41" width="9" height="25.41" fill="#ef8e72"/>
<rect x="1002.4" y="1113.41" width="57" height="25.41" fill="#f0967b"/>
<rect x="1058.4" y="1113.41" width="25" height="25.41" fill="#f2a188"/>
<rect x="1082.4" y="1113.41" width="9" height="25.41" fill="#f0967b"/>
<rect x="1090.4" y="1113.41" width="9" height="25.41" fill="#f2a188"/>
<rect x="1098.4" y="1113.41" width="9" height="25.41" fill="#f0967b"/>
<rect x="1106.4" y="1113.41" width="49" height="25.41" fill="#f4ae98"/>
<rect x="1154.4" y="1113.41" width="17" height="25.41" fill="#f5bba9"/>
<rect x="1170.4" y="1113.41" width="9" height="25.41" fill="#f4ae98"/>
<rect x="1178.4" y="1113.41" width="25" height="25.41" fill="#f6c5b5"/>
<rect x="1202.4" y="1113.41" width="9" height="25.41" fill="#f7f4fe"/>
<rect x="1210.4" y="1113.41" width="9" height="25.41" fill="#e2d5fd"/>
<rect x="1218.4" y="1113.41" width="33" height="25.41" fill="#f7f4fe"/>
<rect x="1250.4" y="1113.41" width="41" height="25.41" fill="#bfa5f9"/>
<rect x="1290.4" y="1113.41" width="105" height="25.41" fill="#e5d9fd"/>
<rect x="1394.4" y="1113.41" width="9" height="25.41" fill="#ffffff"/>
<rect x="202.4" y="1089.01" width="281" height="25.41" fill="#f09478"/>
<rect x="482.4" y="1089.01" width="65" height="25.41" fill="#f1997e"/>
<rect x="546.4" y="1089.01" width="33" height="25.41" fill="#f09175"/>
<rect x="578.4" y="1089.01" width="9" height="25.41" fill="#f1997e"/>
<rect x="586.4" y="1089.01" width="17" height="25.41" fill="#f09478"/>
<rect x="602.4" y="1089.01" width="65" height="25.41" fill="#f0967b"/>
<rect x="666.4" y="1089.01" width="73" height="25.41" fill="#f29e85"/>
<rect x="738.4" y="1089.01" width="49" height="25.41" fill="#f19c82"/>
<rect x="786.4" y="1089.01" width="73" height="25.41" fill="#f29e85"/>
<rect x="858.4" y="1089.01" width="41" height="25.41" fill="#f0967b"/>
<rect x="898.4" y="1089.01" width="17" height="25.41" fill="#ef8e72"/>
<rect x="914.4" y="1089.01" width="17" height="25.41" fill="#ee896b"/>
<rect x="930.4" y="1089.01" width="17" height="25.41" fill="#ef8b6e"/>
<rect x="946.4" y="1089.01" width="25" height="25.41" fill="#ef8e72"/>
<rect x="970.4" y="1089.01" width="25" height="25.41" fill="#ee896b"/>
<rect x="994.4" y="1089.01" width="9" height="25.41" fill="#ef8e72"/>
<rect x="1002.4" y="1089.01" width="57" height="25.41" fill="#f0967b"/>
<rect x="1058.4" y="1089.01" width="25" height="25.41" fill="#f2a188"/>
<rect x="1082.4" y="1089.01" width="9" height="25.41" fill="#f0967b"/>
<rect x="1090.4" y="1089.01" width="9" height="25.41" fill="#f2a188"/>
<rect x="1098.4" y="1089.01" width="9" height="25.41" fill="#f0967b"/>
<rect x="1106.4" y="1089.01" width="49" height="25.41" fill="#f4ae98"/>
<rect x="1154.4" y="1089.01" width="17" height="25.41" fill="#f5bba9"/>
<rect x="1170.4" y="1089.01" width="9" height="25.41" fill="#f4ae98"/>
<rect x="1178.4" y="1089.01" width="25" height="25.41" fill="#f6c5b5"/>
<rect x="1202.4" y="1089.01" width="9" height="25.41" fill="#f7f4fe"/>
<rect x="1210.4" y="1089.01" width="9" height="25.41" fill="#e2d5fd"/>
<rect x="1218.4" y="1089.01" width="33" height="25.41" fill="#f7f4fe"/>
<rect x="1250.4" y="1089.01" width="41" height="25.41" fill="#bfa5f9"/>
<rect x="1290.4" y="1089.01" width="105" height="25.41" fill="#e5d9fd"/>
<rect x="1394.4" y="1089.01" width="9" height="25.41" fill="#ffffff"/>
<rect x="202.4" y="1064.6" width="137" height="25.41" fill="#f4ae98"/>
<rect x="338.4" y="1064.6" width="241" height="25.41" fill="#f2a48c"/>
<rect x="578.4" y="1064.6" width="25" height="25.41" fill="#f4ae98"/>
<rect x="602.4" y="1064.6" width="137" height="25.41" fill="#f3ab94"/>
<rect x="738.4" y="1064.6" width="49" height="25.41" fill="#f2a188"/>
<rect x="786.4" y="1064.6" width="17" height="25.41" fill="#f3ab94"/>
<rect x="802.4" y="1064.6" width="33" height="25.41" fill="#f2a188"/>
<rect x="834.4" y="1064.6" width="17" height="25.41" fill="#f4ae98"/>
<rect x="850.4" y="1064.6" width="33" height="25.41" fill="#f2a48c"/>
<rect x="882.4" y="1064.6" width="17" height="25.41" fill="#f29e85"/>
<rect x="898.4" y="1064.6" width="17" height="25.41" fill="#ef8e72"/>
<rect x="914.4" y="1064.6" width="17" height="25.41" fill="#ee896b"/>
<rect x="930.4" y="1064.6" width="17" height="25.41" fill="#ef8b6e"/>
<rect x="946.4" y="1064.6" width="25" height="25.41" fill="#ef8e72"/>
<rect x="970.4" y="1064.6" width="25" height="25.41" fill="#ee896b"/>
<rect x="994.4" y="1064.6" width="9" height="25.41" fill="#ef8e72"/>
<rect x="1002.4" y="1064.6" width="57" height="25.41" fill="#f0967b"/>
<rect x="1058.4" y="1064.6" width="25" height="25.41" fill="#f2a188"/>
<rect x="1082.4" y="1064.6" width="9" height="25.41" fill="#f0967b"/>
<rect x="1090.4" y="1064.6" width="9" height="25.41" fill="#f2a188"/>
<rect x="1098.4" y="1064.6" width="9" height="25.41" fill="#f0967b"/>
<rect x="1106.4" y="1064.6" width="49" height="25.41" fill="#f4ae98"/>
<rect x="1154.4" y="1064.6" width="17" height="25.41" fill="#f5bba9"/>
<rect x="1170.4" y="1064.6" width="9" height="25.41" fill="#f4ae98"/>
<rect x="1178.4" y="1064.6" width="25" height="25.41" fill="#f6c5b5"/>
<rect x="1202.4" y="1064.6" width="9" height="25.41" fill="#f7f4fe"/>
<rect x="1210.4" y="1064.6" width="9" height="25.41" fill="#e2d5fd"/>
<rect x="1218.4" y="1064.6" width="33" height="25.41" fill="#f7f4fe"/>
<rect x="1250.4" y="1064.6" width="41" height="25.41" fill="#bfa5f9"/>
<rect x="1290.4" y="1064.6" width="105" height="25.41" fill="#e5d9fd"/>
<rect x="1394.4" y="1064.6" width="9" height="25.41" fill="#ffffff"/>
<rect x="202.4" y="1040.2" width="345" height="25.41" fill="#f5b8a5"/>
<rect x="546.4" y="1040.2" width="193" height="25.41" fill="#f3ab94"/>
<rect x="738.4" y="1040.2" width="73" height="25.41" fill="#f3a890"/>
<rect x="810.4" y="1040.2" width="41" height="25.41" fill="#f2a188"/>
<rect x="850.4" y="1040.2" width="49" height="25.41" fill="#f1997e"/>
<rect x="898.4" y="1040.2" width="17" height="25.41" fill="#ef8e72"/>
<rect x="914.4" y="1040.2" width="17" height="25.41" fill="#ee896b"/>
<rect x="930.4" y="1040.2" width="17" height="25.41" fill="#ef8b6e"/>
<rect x="946.4" y="1040.2" width="25" height="25.41" fill="#ef8e72"/>
<rect x="970.4" y="1040.2" width="25" height="25.41" fill="#ee896b"/>
<rect x="994.4" y="1040.2" width="9" height="25.41" fill="#ef8e72"/>
<rect x="1002.4" y="1040.2" width="57" height="25.41" fill="#f0967b"/>
<rect x="1058.4" y="1040.2" width="25" height="25.41" fill="#f2a188"/>
<rect x="1082.4" y="1040.2" width="9" height="25.41" fill="#f0967b"/>
<rect x="1090.4" y="1040.2" width="9" height="25.41" fill="#f2a188"/>
<rect x="1098.4" y="1040.2" width="9" height="25.41" fill="#f0967b"/>
<rect x="1106.4" y="1040.2" width="49" height="25.41" fill="#f4ae98"/>
<rect x="1154.4" y="1040.2" width="17" height="25.41" fill="#f5bba9"/>
<rect x="1170.4" y="1040.2" width="9" height="25.41" fill="#f4ae98"/>
<rect x="1178.4" y="1040.2" width="25" height="25.41" fill="#f6c5b5"/>
<rect x="1202.4" y="1040.2" width="9" height="25.41" fill="#f7f4fe"/>
<rect x="1210.4" y="1040.2" width="9" height="25.41" fill="#e2d5fd"/>
<rect x="1218.4" y="1040.2" width="33" height="25.41" fill="#f7f4fe"/>
<rect x="1250.4" y="1040.2" width="41" height="25.41" fill="#bfa5f9"/>
<rect x="1290.4" y="1040.2" width="105" height="25.41" fill="#e5d9fd"/>
<rect x="1394.4" y="1040.2" width="9" height="25.41" fill="#ffffff"/>
<rect x="202.4" y="1015.79" width="137" height="25.41" fill="#f8d5c8"/>
<rect x="338.4" y="1015.79" width="401" height="25.41" fill="#f7c8b9"/>
<rect x="738.4" y="1015.79" width="73" height="25.41" fill="#f5b8a5"/>
<rect x="810.4" y="1015.79" width="73" height="25.41" fill="#f3ab94"/>
<rect x="882.4" y="1015.79" width="17" height="25.41" fill="#f2a188"/>
<rect x="898.4" y="1015.79" width="105" height="25.41" fill="#f09478"/>
<rect x="1002.4" y="1015.79" width="57" height="25.41" fill="#f2a188"/>
<rect x="1058.4" y="1015.79" width="9" height="25.41" fill="#f6bfad"/>
<rect x="1066.4" y="1015.79" width="25" height="25.41" fill="#f4ae98"/>
<rect x="1090.4" y="1015.79" width="17" height="25.41" fill="#f4b5a1"/>
<rect x="1106.4" y="1015.79" width="9" height="25.41" fill="#f6c2b1"/>
<rect x="1114.4" y="1015.79" width="41" height="25.41" fill="#f5b8a5"/>
<rect x="1154.4" y="1015.79" width="9" height="25.41" fill="#f9dbcf"/>
<rect x="1162.4" y="1015.79" width="17" height="25.41" fill="#f6c5b5"/>
<rect x="1178.4" y="1015.79" width="17" height="25.41" fill="#fcede7"/>
<rect x="1194.4" y="1015.79" width="9" height="25.41" fill="#f9d8cc"/>
<rect x="1202.4" y="1015.79" width="9" height="25.41" fill="#f7f4fe"/>
<rect x="1210.4" y="1015.79" width="9" height="25.41" fill="#e2d5fd"/>
<rect x="1218.4" y="1015.79" width="33" height="25.41" fill="#f7f4fe"/>
<rect x="1250.4" y="1015.79" width="41" height="25.41" fill="#bfa5f9"/>
<rect x="1290.4" y="1015.79" width="105" height="25.41" fill="#e5d9fd"/>
<rect x="1394.4" y="1015.79" width="9" height="25.41" fill="#ffffff"/>
<rect x="202.4" y="991.39" width="137" height="25.41" fill="#f8d5c8"/>
<rect x="338.4" y="991.39" width="209" height="25.41" fill="#f6c5b5"/>
<rect x="546.4" y="991.39" width="57" height="25.41" fill="#f5bba9"/>
<rect x="602.4" y="991.39" width="241" height="25.41" fill="#f6c5b5"/>
<rect x="842.4" y="991.39" width="57" height="25.41" fill="#f5b8a5"/>
<rect x="898.4" y="991.39" width="9" height="25.41" fill="#f29e85"/>
<rect x="906.4" y="991.39" width="41" height="25.41" fill="#f0967b"/>
<rect x="946.4" y="991.39" width="25" height="25.41" fill="#f29e85"/>
<rect x="970.4" y="991.39" width="25" height="25.41" fill="#f1997e"/>
<rect x="994.4" y="991.39" width="41" height="25.41" fill="#f5bba9"/>
<rect x="1034.4" y="991.39" width="25" height="25.41" fill="#f6c5b5"/>
<rect x="1058.4" y="991.39" width="9" height="25.41" fill="#fae1d7"/>
<rect x="1066.4" y="991.39" width="41" height="25.41" fill="#f8cec0"/>
<rect x="1106.4" y="991.39" width="49" height="25.41" fill="#f8d5c8"/>
<rect x="1154.4" y="991.39" width="25" height="25.41" fill="#fcf0eb"/>
<rect x="1178.4" y="991.39" width="33" height="25.41" fill="#f7f4fe"/>
<rect x="1210.4" y="991.39" width="9" height="25.41" fill="#e2d5fd"/>
<rect x="1218.4" y="991.39" width="33" height="25.41" fill="#f7f4fe"/>
<rect x="1250.4" y="991.39" width="41" height="25.41" fill="#bfa5f9"/>
<rect x="1290.4" y="991.39" width="105" height="25.41" fill="#e5d9fd"/>
<rect x="1394.4" y="991.39" width="9" height="25.41" fill="#ffffff"/>
<rect x="202.4" y="966.98" width="345" height="25.41" fill="#f8d2c4"/>
<rect x="546.4" y="966.98" width="353" height="25.41" fill="#f6bfad"/>
<rect x="898.4" y="966.98" width="9" height="25.41" fill="#f2a48c"/>
<rect x="906.4" y="966.98" width="41" height="25.41" fill="#f2a188"/>
<rect x="946.4" y="966.98" width="49" height="25.41" fill="#f3a890"/>
<rect x="994.4" y="966.98" width="9" height="25.41" fill="#f7c8b9"/>
<rect x="1002.4" y="966.98" width="9" height="25.41" fill="#f8cec0"/>
<rect x="1010.4" y="966.98" width="25" height="25.41" fill="#fae1d7"/>
<rect x="1034.4" y="966.98" width="25" height="25.41" fill="#fdf3ef"/>
<rect x="1058.4" y="966.98" width="25" height="25.41" fill="#f2ecfe"/>
<rect x="1082.4" y="966.98" width="81" height="25.41" fill="#fcf0eb"/>
<rect x="1162.4" y="966.98" width="17" height="25.41" fill="#f9dbcf"/>
<rect x="1178.4" y="966.98" width="17" height="25.41" fill="#f7f4fe"/>
<rect x="1194.4" y="966.98" width="17" height="25.41" fill="#fcede7"/>
<rect x="1210.4" y="966.98" width="41" height="25.41" fill="#f7f4fe"/>
<rect x="1250.4" y="966.98" width="41" height="25.41" fill="#bfa5f9"/>
<rect x="1290.4" y="966.98" width="105" height="25.41" fill="#e5d9fd"/>
<rect x="1394.4" y="966.98" width="9" height="25.41" fill="#ffffff"/>
<rect x="202.4" y="942.58" width="137" height="25.41" fill="#9272f6"/>
<rect x="338.4" y="942.58" width="545" height="25.41" fill="#b59af9"/>
<rect x="882.4" y="942.58" width="17" height="25.41" fill="#dbcafc"/>
<rect x="898.4" y="942.58" width="9" height="25.41" fill="#efe8fe"/>
<rect x="906.4" y="942.58" width="89" height="25.41" fill="#fef6f3"/>
<rect x="994.4" y="942.58" width="41" height="25.41" fill="#f2ecfe"/>
<rect x="1034.4" y="942.58" width="25" height="25.41" fill="#dbcafc"/>
<rect x="1058.4" y="942.58" width="9" height="25.41" fill="#9f81f7"/>
<rect x="1066.4" y="942.58" width="49" height="25.41" fill="#bfa5f9"/>
<rect x="1114.4" y="942.58" width="49" height="25.41" fill="#e5d9fd"/>
<rect x="1162.4" y="942.58" width="17" height="25.41" fill="#faf7ff"/>
<rect x="1178.4" y="942.58" width="113" height="25.41" fill="#bfa5f9"/>
<rect x="1290.4" y="942.58" width="105" height="25.41" fill="#e5d9fd"/>
<rect x="1394.4" y="942.58" width="9" height="25.41" fill="#ffffff"/>
<rect x="202.4" y="918.17" width="137" height="25.41" fill="#b89df9"/>
<rect x="338.4" y="918.17" width="209" height="25.41" fill="#ddcefc"/>
<rect x="546.4" y="918.17" width="57" height="25.41" fill="#e5d9fd"/>
<rect x="602.4" y="918.17" width="281" height="25.41" fill="#ddcefc"/>
<rect x="882.4" y="918.17" width="17" height="25.41" fill="#f5f0fe"/>
<rect x="898.4" y="918.17" width="97" height="25.41" fill="#fdf3ef"/>
<rect x="994.4" y="918.17" width="41" height="25.41" fill="#e2d5fd"/>
<rect x="1034.4" y="918.17" width="25" height="25.41" fill="#b89df9"/>
<rect x="1058.4" y="918.17" width="9" height="25.41" fill="#9f81f7"/>
<rect x="1066.4" y="918.17" width="97" height="25.41" fill="#c2a8f9"/>
<rect x="1162.4" y="918.17" width="145" height="25.41" fill="#e5d9fd"/>
<rect x="1306.4" y="918.17" width="97" height="25.41" fill="#ffffff"/>
<rect x="202.4" y="893.77" width="345" height="25.41" fill="#e5d9fd"/>
<rect x="546.4" y="893.77" width="353" height="25.41" fill="#f5f0fe"/>
<rect x="898.4" y="893.77" width="97" height="25.41" fill="#fcf0eb"/>
<rect x="994.4" y="893.77" width="65" height="25.41" fill="#f7f4fe"/>
<rect x="1058.4" y="893.77" width="57" height="25.41" fill="#e5d9fd"/>
<rect x="1114.4" y="893.77" width="281" height="25.41" fill="#fcfbff"/>
<rect x="1394.4" y="893.77" width="9" height="25.41" fill="#fae4db"/>
<rect x="202.4" y="869.36" width="137" height="25.41" fill="#e5d9fd"/>
<rect x="338.4" y="869.36" width="209" height="25.41" fill="#f7f4fe"/>
<rect x="546.4" y="869.36" width="57" height="25.41" fill="#faf7ff"/>
<rect x="602.4" y="869.36" width="297" height="25.41" fill="#f7f4fe"/>
<rect x="898.4" y="869.36" width="137" height="25.41" fill="#fceae3"/>
<rect x="1034.4" y="869.36" width="25" height="25.41" fill="#f9d8cc"/>
<rect x="1058.4" y="869.36" width="57" height="25.41" fill="#ffffff"/>
<rect x="1114.4" y="869.36" width="289" height="25.41" fill="#fbe7df"/>
<rect x="202.4" y="844.96" width="137" height="25.41" fill="#fceae3"/>
<rect x="338.4" y="844.96" width="561" height="25.41" fill="#f8d2c4"/>
<rect x="898.4" y="844.96" width="57" height="25.41" fill="#f5b8a5"/>
<rect x="954.4" y="844.96" width="81" height="25.41" fill="#f6bfad"/>
<rect x="1034.4" y="844.96" width="25" height="25.41" fill="#f4b5a1"/>
<rect x="1058.4" y="844.96" width="345" height="25.41" fill="#f7cbbc"/>
<rect x="202.4" y="820.55" width="137" height="25.41" fill="#ffffff"/>
<rect x="338.4" y="820.55" width="697" height="25.41" fill="#fbe7df"/>
<rect x="1034.4" y="820.55" width="25" height="25.41" fill="#f9d8cc"/>
<rect x="1058.4" y="820.55" width="345" height="25.41" fill="#fef9f7"/>
<rect x="202.4" y="796.15" width="137" height="25.41" fill="#fae4db"/>
<rect x="338.4" y="796.15" width="721" height="25.41" fill="#f8cec0"/>
<rect x="1058.4" y="796.15" width="345" height="25.41" fill="#fbe7df"/>
<rect x="202.4" y="771.74" width="697" height="25.41" fill="#f2a188"/>
<rect x="898.4" y="771.74" width="161" height="25.41" fill="#f0967b"/>
<rect x="1058.4" y="771.74" width="345" height="25.41" fill="#f2a188"/>
<rect x="202.4" y="747.34" width="1201" height="25.41" fill="#f5bba9"/>
<rect x="202.4" y="722.93" width="1201" height="25.41" fill="#f8d2c4"/>
<rect x="202.4" y="698.53" width="1201" height="25.41" fill="#f4b29c"/>
<rect x="202.4" y="674.12" width="1201" height="25.41" fill="#f4b29c"/>
<rect x="202.4" y="649.72" width="1201" height="25.41" fill="#f4b29c"/>
<rect x="202.4" y="625.31" width="697" height="25.41" fill="#f7cbbc"/>
<rect x="898.4" y="625.31" width="505" height="25.41" fill="#f6c5b5"/>
<rect x="202.4" y="600.91" width="697" height="25.41" fill="#f7cbbc"/>
<rect x="898.4" y="600.91" width="505" height="25.41" fill="#f6c5b5"/>
<rect x="202.4" y="576.5" width="1201" height="25.41" fill="#f6c5b5"/>
<rect x="202.4" y="552.1" width="1201" height="25.41" fill="#f4ae98"/>
<rect x="202.4" y="527.69" width="1201" height="25.41" fill="#fefcfb"/>
<rect x="202.4" y="503.29" width="1201" height="25.41" fill="#fefcfb"/>
<rect x="202.4" y="478.88" width="1201" height="25.41" fill="#bba1f9"/>
<rect x="202.4" y="454.48" width="1201" height="25.41" fill="#c2a8f9"/>
<rect x="202.4" y="430.07" width="1201" height="25.41" fill="#c2a8f9"/>
<rect x="202.4" y="405.67" width="1201" height="25.41" fill="#ede4fe"/>
<rect x="202.4" y="381.26" width="1201" height="25.41" fill="#ede4fe"/>
<rect x="202.4" y="356.86" width="1201" height="25.41" fill="#8c6bf5"/>
<rect x="202.4" y="332.45" width="1201" height="25.41" fill="#8c6bf5"/>
<rect x="202.4" y="89.4" width="1201" height="244.05" fill="#bebebe"/>
</g>
<g fill="none">
<path stroke="#c5acfa" stroke-width="0.6" d="M202.4 1309.65V1260.84M210.4 1309.65V1260.84M218.4 1309.65V1260.84M226.4 1309.65V1260.84M234.4 1309.65V1260.84M242.4 1309.65V1260.84M250.4 1309.65V1260.84M258.4 1309.65V1260.84M266.4 1309.65V1260.84M274.4 1309.65V1260.84M282.4 1309.65V1260.84M290.4 1309.65V1260.84M298.4 1309.65V1260.84M306.4 1309.65V1260.84M314.4 1309.65V1260.84M322.4 1309.65V1260.84M330.4 1309.65V1260.84M338.4 1309.65V1260.84M346.4 1309.65V1260.84M354.4 1309.65V1260.84M546.4 1187.62V1163.22M202.4 1309.65H362.4M202.4 1285.25H362.4M546.4 1187.62H554.4"/>
<path stroke="#8264f5" stroke-width="0.6" d="M202.4 1260.84V1212.03M210.4 1260.84V1212.03M218.4 1260.84V1212.03M226.4 1260.84V1212.03M234.4 1260.84V1212.03M242.4 1260.84V1212.03M250.4 1260.84V1212.03M258.4 1260.84V1212.03M266.4 1260.84V1212.03M274.4 1260.84V1212.03M282.4 1260.84V1212.03M290.4 1260.84V1212.03M298.4 1260.84V1212.03M306.4 1260.84V1212.03M314.4 1260.84V1212.03M322.4 1260.84V1212.03M330.4 1260.84V1212.03M338.4 1260.84V1212.03M346.4 1260.84V1212.03M354.4 1260.84V1212.03M362.4 1309.65V1212.03M370.4 1309.65V1212.03M378.4 1309.65V1212.03M386.4 1309.65V1212.03M394.4 1309.65V1212.03M402.4 1309.65V1212.03M410.4 1309.65V1212.03M418.4 1309.65V1212.03M426.4 1309.65V1212.03M434.4 1309.65V1212.03M442.4 1309.65V1212.03M450.4 1309.65V1212.03M458.4 1309.65V1212.03M466.4 1309.65V1212.03M474.4 1309.65V1212.03M482.4 1309.65V1212.03M490.4 1309.65V1212.03M498.4 1309.65V1212.03M506.4 1309.65V1212.03M514.4 1309.65V1212.03M522.4 1309.65V1212.03M362.4 1309.65H530.4M362.4 1285.25H530.4M202.4 1260.84H530.4M202.4 1236.44H530.4"/>
<path stroke="#8c6bf5" stroke-width="0.6" d="M202.4 1212.03V1187.62M210.4 1212.03V1187.62M218.4 1212.03V1187.62M226.4 1212.03V1187.62M234.4 1212.03V1187.62M242.4 1212.03V1187.62M250.4 1212.03V1187.62M258.4 1212.03V1187.62M266.4 1212.03V1187.62M274.4 1212.03V1187.62M282.4 1212.03V1187.62M290.4 1212.03V1187.62M298.4 1212.03V1187.62M306.4 1212.03V1187.62M314.4 1212.03V1187.62M322.4 1212.03V1187.62M330.4 1212.03V1187.62M338.4 1212.03V1187.62M346.4 1212.03V1187.62M354.4 1212.03V1187.62M362.4 1212.03V1187.62M370.4 1212.03V1187.62M378.4 1212.03V1187.62M386.4 1212.03V1187.62M394.4 1212.03V1187.62M402.4 1212.03V1187.62M410.4 1212.03V1187.62M418.4 1212.03V1187.62M426.4 1212.03V1187.62M434.4 1212.03V1187.62M442.4 1212.03V1187.62M450.4 1212.03V1187.62M458.4 1212.03V1187.62M466.4 1212.03V1187.62M474.4 1212.03V1187.62M482.4 1212.03V1187.62M490.4 1212.03V1187.62M498.4 1212.03V1187.62M506.4 1212.03V1187.62M514.4 1212.03V1187.62M522.4 1212.03V1187.62M202.4 1212.03H530.4"/>
<path stroke="#9f81f7" stroke-width="0.6" d="M202.4 1187.62V1163.22M210.4 1187.62V1163.22M218.4 1187.62V1163.22M226.4 1187.62V1163.22M234.4 1187.62V1163.22M242.4 1187.62V1163.22M250.4 1187.62V1163.22M258.4 1187.62V1163.22M266.4 1187.62V1163.22M274.4 1187.62V1163.22M282.4 1187.62V1163.22M290.4 1187.62V1163.22M298.4 1187.62V1163.22M306.4 1187.62V1163.22M314.4 1187.62V1163.22M322.4 1187.62V1163.22M330.4 1187.62V1163.22M338.4 1187.62V1163.22M346.4 1187.62V1163.22M354.4 1187.62V1163.22M362.4 1187.62V1163.22M370.4 1187.62V1163.22M378.4 1187.62V1163.22M386.4 1187.62V1163.22M394.4 1187.62V1163.22M402.4 1187.62V1163.22M410.4 1187.62V1163.22M418.4 1187.62V1163.22M426.4 1187.62V1163.22M434.4 1187.62V1163.22M442.4 1187.62V1163.22M450.4 1187.62V1163.22M458.4 1187.62V1163.22M466.4 1187.62V1163.22M474.4 1187.62V1163.22M482.4 1187.62V1163.22M490.4 1187.62V1163.22M498.4 1187.62V1163.22M506.4 1187.62V1163.22M514.4 1187.62V1163.22M522.4 1187.62V1163.22M538.4 1309.65V1212.03M1066.4 967.98V943.58M1074.4 967.98V943.58M1082.4 967.98V943.58M1090.4 967.98V943.58M1098.4 967.98V943.58M1106.4 967.98V943.58M1178.4 967.98V943.58M1186.4 967.98V943.58M1194.4 967.98V943.58M1202.4 967.98V943.58M1210.4 967.98V943.58M1218.4 967.98V943.58M1226.4 967.98V943.58M1234.4 967.98V943.58M1242.4 967.98V943.58M1250.4 1065.6V943.58M1258.4 1065.6V943.58M1266.4 1065.6V943.58M1274.4 1065.6V943.58M1282.4 1065.6V943.58M538.4 1309.65H546.4M538.4 1285.25H546.4M538.4 1260.84H546.4M538.4 1236.44H546.4M202.4 1187.62H530.4M1250.4 1065.6H1290.4M1250.4 1041.2H1290.4M1250.4 1016.79H1290.4M1250.4 992.39H1290.4M1066.4 967.98H1114.4M1178.4 967.98H1290.4"/>
<path stroke="#cbb3fa" stroke-width="0.6" d="M202.4 1163.22V1138.82M210.4 1163.22V1138.82M218.4 1163.22V1138.82M226.4 1163.22V1138.82M234.4 1163.22V1138.82M242.4 1163.22V1138.82M250.4 1163.22V1138.82M258.4 1163.22V1138.82M266.4 1163.22V1138.82M274.4 1163.22V1138.82M282.4 1163.22V1138.82M290.4 1163.22V1138.82M298.4 1163.22V1138.82M306.4 1163.22V1138.82M314.4 1163.22V1138.82M322.4 1163.22V1138.82M330.4 1163.22V1138.82M338.4 1163.22V1138.82M346.4 1163.22V1138.82M354.4 1163.22V1138.82M362.4 1163.22V1138.82M370.4 1163.22V1138.82M378.4 1163.22V1138.82M386.4 1163.22V1138.82M394.4 1163.22V1138.82M402.4 1163.22V1138.82M410.4 1163.22V1138.82M418.4 1163.22V1138.82M426.4 1163.22V1138.82M434.4 1163.22V1138.82M442.4 1163.22V1138.82M450.4 1163.22V1138.82M458.4 1163.22V1138.82M466.4 1163.22V1138.82M474.4 1163.22V1138.82M482.4 1163.22V1138.82M490.4 1163.22V1138.82M498.4 1163.22V1138.82M506.4 1163.22V1138.82M514.4 1163.22V1138.82M522.4 1163.22V1138.82M1058.4 967.98V894.77M1066.4 919.17V894.77M1074.4 919.17V894.77M1082.4 919.17V894.77M1090.4 919.17V894.77M1098.4 919.17V894.77M1106.4 919.17V894.77M1114.4 967.98V943.58M1122.4 967.98V943.58M1130.4 967.98V943.58M1138.4 967.98V943.58M1146.4 967.98V943.58M1154.4 967.98V943.58M1162.4 943.58V919.17M1170.4 943.58V919.17M1178.4 943.58V919.17M1186.4 943.58V919.17M1194.4 943.58V919.17M1202.4 1309.65V1065.6M1202.4 943.58V919.17M1210.4 1309.65V1065.6M1210.4 943.58V919.17M1218.4 1309.65V1065.6M1218.4 943.58V919.17M1226.4 1309.65V1065.6M1226.4 943.58V919.17M1234.4 1309.65V1065.6M1234.4 943.58V919.17M1242.4 1309.65V1065.6M1242.4 943.58V919.17M1250.4 1309.65V1065.6M1250.4 943.58V919.17M1258.4 1309.65V1065.6M1258.4 943.58V919.17M1266.4 1309.65V1065.6M1266.4 943.58V919.17M1274.4 1309.65V1065.6M1274.4 943.58V919.17M1282.4 1309.65V1065.6M1282.4 943.58V919.17M1290.4 1309.65V919.17M1298.4 1309.65V919.17M1306.4 1309.65V943.58M1314.4 1309.65V943.58M1322.4 1309.65V943.58M1330.4 1309.65V943.58M1338.4 1309.65V943.58M1346.4 1309.65V943.58M1354.4 1309.65V943.58M1362.4 1309.65V943.58M1370.4 1309.65V943.58M1378.4 1309.65V943.58M1386.4 1309.65V943.58M1394.4 1309.65V1065.6M1403.4 1309.65V1065.6M1202.4 1309.65H1403.4M1202.4 1285.25H1403.4M1202.4 1260.84H1403.4M1202.4 1236.44H1403.4M1202.4 1212.03H1403.4M1202.4 1187.62H1403.4M202.4 1163.22H530.4M1202.4 1163.22H1403.4M1202.4 1138.82H1403.4M1202.4 1114.41H1403.4M1202.4 1090.01H1403.4M1290.4 1065.6H1394.4M1290.4 1041.2H1394.4M1290.4 1016.79H1394.4M1290.4 992.39H1394.4M1058.4 967.98H1066.4M1114.4 967.98H1162.4M1290.4 967.98H1394.4M1058.4 943.58H1066.4M1162.4 943.58H1306.4M1058.4 919.17H1114.4"/>
<path stroke="#efe8fe" stroke-width="0.6" d="M202.4 1138.82V1114.41M210.4 1138.82V1114.41M218.4 1138.82V1114.41M226.4 1138.82V1114.41M234.4 1138.82V1114.41M242.4 1138.82V1114.41M250.4 1138.82V1114.41M258.4 1138.82V1114.41M266.4 1138.82V1114.41M274.4 1138.82V1114.41M282.4 1138.82V1114.41M290.4 1138.82V1114.41M298.4 1138.82V1114.41M306.4 1138.82V1114.41M314.4 1138.82V1114.41M322.4 1138.82V1114.41M330.4 1138.82V1114.41M338.4 1138.82V1114.41M346.4 1138.82V1114.41M354.4 1138.82V1114.41M362.4 1138.82V1114.41M370.4 1138.82V1114.41M378.4 1138.82V1114.41M386.4 1138.82V1114.41M394.4 1138.82V1114.41M402.4 1138.82V1114.41M410.4 1138.82V1114.41M418.4 1138.82V1114.41M426.4 1138.82V1114.41M434.4 1138.82V1114.41M442.4 1138.82V1114.41M450.4 1138.82V1114.41M458.4 1138.82V1114.41M466.4 1138.82V1114.41M474.4 1138.82V1114.41M482.4 1138.82V1114.41M490.4 1138.82V1114.41M498.4 1138.82V1114.41M506.4 1138.82V1114.41M514.4 1138.82V1114.41M522.4 1138.82V1114.41M530.4 1138.82V1114.41M538.4 1138.82V1114.41M546.4 1138.82V1114.41M554.4 1163.22V1114.41M562.4 1163.22V1114.41M570.4 1163.22V1114.41M578.4 1187.62V1114.41M586.4 1187.62V1114.41M594.4 1309.65V1114.41M898.4 943.58V919.17M906.4 943.58V919.17M914.4 943.58V919.17M922.4 943.58V919.17M930.4 943.58V919.17M938.4 943.58V919.17M946.4 943.58V919.17M954.4 943.58V919.17M962.4 943.58V919.17M970.4 943.58V919.17M978.4 943.58V919.17M986.4 943.58V919.17M1034.4 992.39V967.98M1042.4 992.39V967.98M1050.4 992.39V967.98M594.4 1309.65H602.4M594.4 1285.25H602.4M594.4 1260.84H602.4M594.4 1236.44H602.4M594.4 1212.03H602.4M578.4 1187.62H602.4M554.4 1163.22H602.4M202.4 1138.82H602.4M1034.4 992.39H1058.4M898.4 943.58H994.4"/>
<path stroke="#fef9f7" stroke-width="0.6" d="M202.4 1114.41V1065.6M210.4 1114.41V1065.6M218.4 1114.41V1065.6M226.4 1114.41V1065.6M234.4 1114.41V1065.6M242.4 1114.41V1065.6M250.4 1114.41V1065.6M258.4 1114.41V1065.6M266.4 1114.41V1065.6M274.4 1114.41V1065.6M282.4 1114.41V1065.6M290.4 1114.41V1065.6M298.4 1114.41V1065.6M306.4 1114.41V1065.6M314.4 1114.41V1065.6M322.4 1114.41V1065.6M330.4 1114.41V1065.6M338.4 1114.41V1065.6M346.4 1114.41V1065.6M354.4 1114.41V1065.6M362.4 1114.41V1065.6M370.4 1114.41V1065.6M378.4 1114.41V1065.6M386.4 1114.41V1065.6M394.4 1114.41V1065.6M402.4 1114.41V1065.6M410.4 1114.41V1065.6M418.4 1114.41V1065.6M426.4 1114.41V1065.6M434.4 1114.41V1065.6M442.4 1114.41V1065.6M450.4 1114.41V1065.6M458.4 1114.41V1065.6M466.4 1114.41V1065.6M474.4 1114.41V1065.6M482.4 1114.41V1065.6M490.4 1114.41V1065.6M498.4 1114.41V1065.6M506.4 1114.41V1065.6M514.4 1114.41V1065.6M522.4 1114.41V1065.6M530.4 1114.41V1065.6M538.4 1114.41V1065.6M546.4 1114.41V1065.6M554.4 1114.41V1065.6M562.4 1114.41V1065.6M570.4 1114.41V1065.6M578.4 1114.41V1065.6M586.4 1114.41V1065.6M594.4 1114.41V1065.6M602.4 1138.82V1065.6M610.4 1138.82V1065.6M618.4 1138.82V1065.6M626.4 1138.82V1065.6M634.4 1138.82V1065.6M642.4 1138.82V1065.6M650.4 1138.82V1065.6M658.4 1138.82V1065.6M666.4 1138.82V1065.6M674.4 1138.82V1065.6M682.4 1138.82V1065.6M690.4 1138.82V1065.6M698.4 1138.82V1065.6M706.4 1138.82V1065.6M714.4 1138.82V1065.6M722.4 1138.82V1065.6M730.4 1138.82V1065.6M602.4 1138.82H738.4M202.4 1114.41H738.4M202.4 1090.01H738.4"/>
<path stroke="#f7cbbc" stroke-width="0.6" d="M202.4 1065.6V1041.2M210.4 1065.6V1041.2M218.4 1065.6V1041.2M226.4 1065.6V1041.2M234.4 1065.6V1041.2M242.4 1065.6V1041.2M250.4 1065.6V1041.2M258.4 1065.6V1041.2M266.4 1065.6V1041.2M274.4 1065.6V1041.2M282.4 1065.6V1041.2M290.4 1065.6V1041.2M298.4 1065.6V1041.2M306.4 1065.6V1041.2M314.4 1065.6V1041.2M322.4 1065.6V1041.2M330.4 1065.6V1041.2M338.4 1065.6V1041.2M346.4 1065.6V1041.2M354.4 1065.6V1041.2M362.4 1065.6V1041.2M370.4 1065.6V1041.2M378.4 1065.6V1041.2M386.4 1065.6V1041.2M394.4 1065.6V1041.2M402.4 1065.6V1041.2M410.4 1065.6V1041.2M418.4 1065.6V1041.2M426.4 1065.6V1041.2M434.4 1065.6V1041.2M442.4 1065.6V1041.2M450.4 1065.6V1041.2M458.4 1065.6V1041.2M466.4 1065.6V1041.2M474.4 1065.6V1041.2M482.4 1065.6V1041.2M490.4 1065.6V1041.2M498.4 1065.6V1041.2M506.4 1065.6V1041.2M514.4 1065.6V1041.2M522.4 1065.6V1041.2M530.4 1065.6V1041.2M538.4 1065.6V1041.2M738.4 1041.2V1016.79M746.4 1041.2V1016.79M754.4 1041.2V1016.79M762.4 1041.2V1016.79M770.4 1041.2V1016.79M778.4 1041.2V1016.79M786.4 1041.2V1016.79M794.4 1041.2V1016.79M802.4 1041.2V1016.79M842.4 1016.79V992.39M850.4 1016.79V992.39M858.4 1016.79V992.39M866.4 1016.79V992.39M874.4 1016.79V992.39M882.4 1016.79V992.39M890.4 1016.79V992.39M898.4 870.36V845.96M906.4 870.36V845.96M914.4 870.36V845.96M922.4 870.36V845.96M930.4 870.36V845.96M938.4 870.36V845.96M946.4 870.36V845.96M1114.4 1041.2V1016.79M1122.4 1041.2V1016.79M1130.4 1041.2V1016.79M1138.4 1041.2V1016.79M1146.4 1041.2V1016.79M202.4 1065.6H546.4M738.4 1041.2H810.4M1114.4 1041.2H1154.4M842.4 1016.79H898.4M898.4 870.36H954.4"/>
<path stroke="#fbe7df" stroke-width="0.6" d="M202.4 1041.2V992.39M210.4 1041.2V992.39M218.4 1041.2V992.39M226.4 1041.2V992.39M234.4 1041.2V992.39M242.4 1041.2V992.39M250.4 1041.2V992.39M258.4 1041.2V992.39M266.4 1041.2V992.39M274.4 1041.2V992.39M282.4 1041.2V992.39M290.4 1041.2V992.39M298.4 1041.2V992.39M306.4 1041.2V992.39M314.4 1041.2V992.39M322.4 1041.2V992.39M330.4 1041.2V992.39M1106.4 1016.79V992.39M1114.4 1016.79V992.39M1122.4 1016.79V992.39M1130.4 1016.79V992.39M1138.4 1016.79V992.39M1146.4 1016.79V992.39M202.4 1041.2H338.4M202.4 1016.79H338.4M1106.4 1016.79H1154.4"/>
<path stroke="#fae4db" stroke-width="0.6" d="M202.4 992.39V967.98M210.4 992.39V967.98M218.4 992.39V967.98M226.4 992.39V967.98M234.4 992.39V967.98M242.4 992.39V967.98M250.4 992.39V967.98M258.4 992.39V967.98M266.4 992.39V967.98M274.4 992.39V967.98M282.4 992.39V967.98M290.4 992.39V967.98M298.4 992.39V967.98M306.4 992.39V967.98M314.4 992.39V967.98M322.4 992.39V967.98M330.4 992.39V967.98M338.4 992.39V967.98M338.4 870.36V845.96M346.4 992.39V967.98M346.4 870.36V845.96M354.4 992.39V967.98M354.4 870.36V845.96M362.4 992.39V967.98M362.4 870.36V845.96M370.4 992.39V967.98M370.4 870.36V845.96M378.4 992.39V967.98M378.4 870.36V845.96M386.4 992.39V967.98M386.4 870.36V845.96M394.4 992.39V967.98M394.4 870.36V845.96M402.4 992.39V967.98M402.4 870.36V845.96M410.4 992.39V967.98M410.4 870.36V845.96M418.4 992.39V967.98M418.4 870.36V845.96M426.4 992.39V967.98M426.4 870.36V845.96M434.4 992.39V967.98M434.4 870.36V845.96M442.4 992.39V967.98M442.4 870.36V845.96M450.4 992.39V967.98M450.4 870.36V845.96M458.4 992.39V967.98M458.4 870.36V845.96M466.4 992.39V967.98M466.4 870.36V845.96M474.4 992.39V967.98M474.4 870.36V845.96M482.4 992.39V967.98M482.4 870.36V845.96M490.4 992.39V967.98M490.4 870.36V845.96M498.4 992.39V967.98M498.4 870.36V845.96M506.4 992.39V967.98M506.4 870.36V845.96M514.4 992.39V967.98M514.4 870.36V845.96M522.4 992.39V967.98M522.4 870.36V845.96M530.4 992.39V967.98M530.4 870.36V845.96M538.4 992.39V967.98M538.4 870.36V845.96M546.4 870.36V845.96M554.4 870.36V845.96M562.4 870.36V845.96M570.4 870.36V845.96M578.4 870.36V845.96M586.4 870.36V845.96M594.4 870.36V845.96M602.4 870.36V845.96M610.4 870.36V845.96M618.4 870.36V845.96M626.4 870.36V845.96M634.4 870.36V845.96M642.4 870.36V845.96M650.4 870.36V845.96M658.4 870.36V845.96M666.4 870.36V845.96M674.4 870.36V845.96M682.4 870.36V845.96M690.4 870.36V845.96M698.4 870.36V845.96M706.4 870.36V845.96M714.4 870.36V845.96M722.4 870.36V845.96M730.4 870.36V845.96M738.4 870.36V845.96M746.4 870.36V845.96M754.4 870.36V845.96M762.4 870.36V845.96M770.4 870.36V845.96M778.4 870.36V845.96M786.4 870.36V845.96M794.4 870.36V845.96M802.4 870.36V845.96M810.4 870.36V845.96M818.4 870.36V845.96M826.4 870.36V845.96M834.4 870.36V845.96M842.4 870.36V845.96M850.4 870.36V845.96M858.4 870.36V845.96M866.4 870.36V845.96M874.4 870.36V845.96M882.4 870.36V845.96M890.4 870.36V845.96M202.4 992.39H546.4M338.4 870.36H898.4"/>
<path stroke="#d3befb" stroke-width="0.6" d="M202.4 967.98V870.36M210.4 967.98V870.36M218.4 967.98V870.36M226.4 967.98V870.36M234.4 967.98V870.36M242.4 967.98V870.36M250.4 967.98V870.36M258.4 967.98V870.36M266.4 967.98V870.36M274.4 967.98V870.36M282.4 967.98V870.36M290.4 967.98V870.36M298.4 967.98V870.36M306.4 967.98V870.36M314.4 967.98V870.36M322.4 967.98V870.36M330.4 967.98V870.36M338.4 967.98V870.36M346.4 967.98V870.36M354.4 967.98V870.36M362.4 967.98V870.36M370.4 967.98V870.36M378.4 967.98V870.36M386.4 967.98V870.36M394.4 967.98V870.36M402.4 967.98V870.36M410.4 967.98V870.36M418.4 967.98V870.36M426.4 967.98V870.36M434.4 967.98V870.36M442.4 967.98V870.36M450.4 967.98V870.36M458.4 967.98V870.36M466.4 967.98V870.36M474.4 967.98V870.36M482.4 967.98V870.36M490.4 967.98V870.36M498.4 967.98V870.36M506.4 967.98V870.36M514.4 967.98V870.36M522.4 967.98V870.36M530.4 967.98V870.36M538.4 967.98V870.36M546.4 967.98V870.36M554.4 967.98V870.36M562.4 967.98V870.36M570.4 967.98V870.36M578.4 967.98V870.36M586.4 967.98V870.36M594.4 967.98V870.36M602.4 967.98V870.36M610.4 967.98V870.36M618.4 967.98V870.36M626.4 967.98V870.36M634.4 967.98V870.36M642.4 967.98V870.36M650.4 967.98V870.36M658.4 967.98V870.36M666.4 967.98V870.36M674.4 967.98V870.36M682.4 967.98V870.36M690.4 967.98V870.36M698.4 967.98V870.36M706.4 967.98V870.36M714.4 967.98V870.36M722.4 967.98V870.36M730.4 967.98V870.36M738.4 967.98V870.36M746.4 967.98V870.36M754.4 967.98V870.36M762.4 967.98V870.36M770.4 967.98V870.36M778.4 967.98V870.36M786.4 967.98V870.36M794.4 967.98V870.36M802.4 967.98V870.36M810.4 967.98V870.36M818.4 967.98V870.36M826.4 967.98V870.36M834.4 967.98V870.36M842.4 967.98V870.36M850.4 967.98V870.36M858.4 967.98V870.36M866.4 967.98V870.36M874.4 967.98V870.36M882.4 967.98V870.36M890.4 967.98V870.36M898.4 967.98V943.58M994.4 967.98V894.77M202.4 967.98H906.4M994.4 967.98H1002.4M202.4 943.58H898.4M994.4 943.58H1002.4M202.4 919.17H898.4M994.4 919.17H1002.4M202.4 894.77H898.4"/>
<path stroke="#f7f4fe" stroke-width="0.6" d="M202.4 870.36V845.96M210.4 870.36V845.96M218.4 870.36V845.96M226.4 870.36V845.96M234.4 870.36V845.96M242.4 870.36V845.96M250.4 870.36V845.96M258.4 870.36V845.96M266.4 870.36V845.96M274.4 870.36V845.96M282.4 870.36V845.96M290.4 870.36V845.96M298.4 870.36V845.96M306.4 870.36V845.96M314.4 870.36V845.96M322.4 870.36V845.96M330.4 870.36V845.96M898.4 894.77V870.36M906.4 894.77V870.36M914.4 894.77V870.36M922.4 894.77V870.36M930.4 894.77V870.36M938.4 894.77V870.36M946.4 894.77V870.36M954.4 894.77V870.36M962.4 894.77V870.36M970.4 894.77V870.36M978.4 894.77V870.36M986.4 894.77V870.36M994.4 894.77V870.36M1002.4 894.77V870.36M1010.4 894.77V870.36M1018.4 894.77V870.36M1026.4 894.77V870.36M898.4 894.77H1034.4M202.4 870.36H338.4"/>
<path stroke="#e5d9fd" stroke-width="0.6" d="M202.4 845.96V821.55M210.4 845.96V821.55M218.4 845.96V821.55M226.4 845.96V821.55M234.4 845.96V821.55M242.4 845.96V821.55M250.4 845.96V821.55M258.4 845.96V821.55M266.4 845.96V821.55M274.4 845.96V821.55M282.4 845.96V821.55M290.4 845.96V821.55M298.4 845.96V821.55M306.4 845.96V821.55M314.4 845.96V821.55M322.4 845.96V821.55M330.4 845.96V821.55M570.4 1187.62V1163.22M1058.4 894.77V870.36M1066.4 894.77V870.36M1074.4 894.77V870.36M1082.4 894.77V870.36M1090.4 894.77V870.36M1098.4 894.77V870.36M1106.4 894.77V870.36M1306.4 943.58V919.17M1314.4 943.58V919.17M1322.4 943.58V919.17M1330.4 943.58V919.17M1338.4 943.58V919.17M1346.4 943.58V919.17M1354.4 943.58V919.17M1362.4 943.58V919.17M1370.4 943.58V919.17M1378.4 943.58V919.17M1386.4 943.58V919.17M1394.4 1065.6V919.17M1403.4 1065.6V919.17M570.4 1187.62H578.4M1394.4 1065.6H1403.4M1394.4 1041.2H1403.4M1394.4 1016.79H1403.4M1394.4 992.39H1403.4M1394.4 967.98H1403.4M1306.4 943.58H1403.4M1058.4 894.77H1114.4M202.4 845.96H338.4"/>
<path stroke="#bebebe" stroke-width="0.55" stroke-opacity="0.5" d="M202.4 821.55V504.29M210.4 821.55V504.29M218.4 821.55V504.29M226.4 821.55V504.29M234.4 821.55V504.29M242.4 821.55V504.29M250.4 821.55V504.29M258.4 821.55V504.29M266.4 821.55V504.29M274.4 821.55V504.29M282.4 821.55V504.29M290.4 821.55V504.29M298.4 821.55V504.29M306.4 821.55V504.29M314.4 821.55V504.29M322.4 821.55V504.29M330.4 821.55V504.29M338.4 821.55V504.29M346.4 821.55V504.29M354.4 821.55V504.29M362.4 821.55V504.29M370.4 821.55V504.29M378.4 821.55V504.29M386.4 821.55V504.29M394.4 821.55V504.29M402.4 821.55V504.29M410.4 821.55V504.29M418.4 821.55V504.29M426.4 821.55V504.29M434.4 821.55V504.29M442.4 821.55V504.29M450.4 821.55V504.29M458.4 821.55V504.29M466.4 821.55V504.29M474.4 821.55V504.29M482.4 821.55V504.29M490.4 821.55V504.29M498.4 821.55V504.29M506.4 821.55V504.29M514.4 821.55V504.29M522.4 821.55V504.29M530.4 821.55V504.29M538.4 821.55V504.29M546.4 821.55V504.29M554.4 821.55V504.29M562.4 821.55V504.29M570.4 821.55V504.29M578.4 821.55V504.29M586.4 821.55V504.29M594.4 821.55V504.29M602.4 821.55V504.29M610.4 821.55V504.29M618.4 821.55V504.29M626.4 821.55V504.29M634.4 821.55V504.29M642.4 821.55V504.29M650.4 821.55V504.29M658.4 821.55V504.29M666.4 821.55V504.29M674.4 821.55V504.29M682.4 821.55V504.29M690.4 821.55V504.29M698.4 821.55V504.29M706.4 821.55V504.29M714.4 821.55V504.29M722.4 821.55V504.29M730.4 821.55V504.29M738.4 821.55V504.29M746.4 821.55V504.29M754.4 821.55V504.29M762.4 821.55V504.29M770.4 821.55V504.29M778.4 821.55V504.29M786.4 821.55V504.29M794.4 821.55V504.29M802.4 821.55V504.29M810.4 821.55V504.29M818.4 821.55V504.29M826.4 821.55V504.29M834.4 821.55V504.29M842.4 821.55V504.29M850.4 821.55V504.29M858.4 821.55V504.29M866.4 821.55V504.29M874.4 821.55V504.29M882.4 821.55V504.29M890.4 821.55V504.29M898.4 821.55V504.29M906.4 821.55V504.29M914.4 821.55V504.29M922.4 821.55V504.29M930.4 821.55V504.29M938.4 821.55V504.29M946.4 821.55V504.29M954.4 821.55V504.29M962.4 821.55V504.29M970.4 821.55V504.29M978.4 821.55V504.29M986.4 821.55V504.29M994.4 821.55V504.29M1002.4 821.55V504.29M1010.4 821.55V504.29M1018.4 821.55V504.29M1026.4 821.55V504.29M1034.4 821.55V504.29M1042.4 821.55V504.29M1050.4 821.55V504.29M1058.4 821.55V504.29M1066.4 821.55V504.29M1074.4 821.55V504.29M1082.4 821.55V504.29M1090.4 821.55V504.29M1098.4 821.55V504.29M1106.4 821.55V504.29M1114.4 821.55V504.29M1122.4 821.55V504.29M1130.4 821.55V504.29M1138.4 821.55V504.29M1146.4 821.55V504.29M1154.4 821.55V504.29M1162.4 821.55V504.29M1170.4 821.55V504.29M1178.4 821.55V504.29M1186.4 821.55V504.29M1194.4 821.55V504.29M1202.4 821.55V504.29M1210.4 821.55V504.29M1218.4 821.55V504.29M1226.4 821.55V504.29M1234.4 821.55V504.29M1242.4 821.55V504.29M1250.4 821.55V504.29M1258.4 821.55V504.29M1266.4 821.55V504.29M1274.4 821.55V504.29M1282.4 821.55V504.29M1290.4 821.55V504.29M1298.4 821.55V504.29M1306.4 821.55V504.29M1314.4 821.55V504.29M1322.4 821.55V504.29M1330.4 821.55V504.29M1338.4 821.55V504.29M1346.4 821.55V504.29M1354.4 821.55V504.29M1362.4 821.55V504.29M1370.4 821.55V504.29M1378.4 821.55V504.29M1386.4 821.55V504.29M1394.4 821.55V504.29M1403.4 821.55V504.29"/>
<path stroke="#bebebe" stroke-width="0.55" stroke-opacity="0.2" d="M202.4 821.55H1403.4M202.4 797.15H1403.4M202.4 772.74H1403.4M202.4 748.34H1403.4M202.4 723.93H1403.4M202.4 699.53H1403.4M202.4 675.12H1403.4M202.4 650.72H1403.4M202.4 626.31H1403.4M202.4 601.91H1403.4M202.4 577.5H1403.4M202.4 553.1H1403.4M202.4 528.69H1403.4"/>
<path stroke="#bebebe" stroke-width="0.55" stroke-opacity="1" d="M202.4 504.29V333.45M210.4 504.29V333.45M218.4 504.29V333.45M226.4 504.29V333.45M234.4 504.29V333.45M242.4 504.29V333.45M250.4 504.29V333.45M258.4 504.29V333.45M266.4 504.29V333.45M274.4 504.29V333.45M282.4 504.29V333.45M290.4 504.29V333.45M298.4 504.29V333.45M306.4 504.29V333.45M314.4 504.29V333.45M322.4 504.29V333.45M330.4 504.29V333.45M338.4 504.29V333.45M346.4 504.29V333.45M354.4 504.29V333.45M362.4 504.29V333.45M370.4 504.29V333.45M378.4 504.29V333.45M386.4 504.29V333.45M394.4 504.29V333.45M402.4 504.29V333.45M410.4 504.29V333.45M418.4 504.29V333.45M426.4 504.29V333.45M434.4 504.29V333.45M442.4 504.29V333.45M450.4 504.29V333.45M458.4 504.29V333.45M466.4 504.29V333.45M474.4 504.29V333.45M482.4 504.29V333.45M490.4 504.29V333.45M498.4 504.29V333.45M506.4 504.29V333.45M514.4 504.29V333.45M522.4 504.29V333.45M530.4 504.29V333.45M538.4 504.29V333.45M546.4 504.29V333.45M554.4 504.29V333.45M562.4 504.29V333.45M570.4 504.29V333.45M578.4 504.29V333.45M586.4 504.29V333.45M594.4 504.29V333.45M602.4 504.29V333.45M610.4 504.29V333.45M618.4 504.29V333.45M626.4 504.29V333.45M634.4 504.29V333.45M642.4 504.29V333.45M650.4 504.29V333.45M658.4 504.29V333.45M666.4 504.29V333.45M674.4 504.29V333.45M682.4 504.29V333.45M690.4 504.29V333.45M698.4 504.29V333.45M706.4 504.29V333.45M714.4 504.29V333.45M722.4 504.29V333.45M730.4 504.29V333.45M738.4 504.29V333.45M746.4 504.29V333.45M754.4 504.29V333.45M762.4 504.29V333.45M770.4 504.29V333.45M778.4 504.29V333.45M786.4 504.29V333.45M794.4 504.29V333.45M802.4 504.29V333.45M810.4 504.29V333.45M818.4 504.29V333.45M826.4 504.29V333.45M834.4 504.29V333.45M842.4 504.29V333.45M850.4 504.29V333.45M858.4 504.29V333.45M866.4 504.29V333.45M874.4 504.29V333.45M882.4 504.29V333.45M890.4 504.29V333.45M898.4 504.29V333.45M906.4 504.29V333.45M914.4 504.29V333.45M922.4 504.29V333.45M930.4 504.29V333.45M938.4 504.29V333.45M946.4 504.29V333.45M954.4 504.29V333.45M962.4 504.29V333.45M970.4 504.29V333.45M978.4 504.29V333.45M986.4 504.29V333.45M994.4 504.29V333.45M1002.4 504.29V333.45M1010.4 504.29V333.45M1018.4 504.29V333.45M1026.4 504.29V333.45M1034.4 504.29V333.45M1042.4 504.29V333.45M1050.4 504.29V333.45M1058.4 504.29V333.45M1066.4 504.29V333.45M1074.4 504.29V333.45M1082.4 504.29V333.45M1090.4 504.29V333.45M1098.4 504.29V333.45M1106.4 504.29V333.45M1114.4 504.29V333.45M1122.4 504.29V333.45M1130.4 504.29V333.45M1138.4 504.29V333.45M1146.4 504.29V333.45M1154.4 504.29V333.45M1162.4 504.29V333.45M1170.4 504.29V333.45M1178.4 504.29V333.45M1186.4 504.29V333.45M1194.4 504.29V333.45M1202.4 504.29V333.45M1210.4 504.29V333.45M1218.4 504.29V333.45M1226.4 504.29V333.45M1234.4 504.29V333.45M1242.4 504.29V333.45M1250.4 504.29V333.45M1258.4 504.29V333.45M1266.4 504.29V333.45M1274.4 504.29V333.45M1282.4 504.29V333.45M1290.4 504.29V333.45M1298.4 504.29V333.45M1306.4 504.29V333.45M1314.4 504.29V333.45M1322.4 504.29V333.45M1330.4 504.29V333.45M1338.4 504.29V333.45M1346.4 504.29V333.45M1354.4 504.29V333.45M1362.4 504.29V333.45M1370.4 504.29V333.45M1378.4 504.29V333.45M1386.4 504.29V333.45M1394.4 504.29V333.45M1403.4 504.29V333.45"/>
<path stroke="#bebebe" stroke-width="0.55" stroke-opacity="0.5" d="M202.4 504.29H1403.4M202.4 479.88H1403.4M202.4 455.48H1403.4M202.4 431.07H1403.4M202.4 406.67H1403.4M202.4 382.26H1403.4M202.4 357.86H1403.4M202.4 333.45H1403.4"/>
<path stroke="#f9dbcf" stroke-width="0.6" d="M338.4 1041.2V1016.79M346.4 1041.2V1016.79M354.4 1041.2V1016.79M362.4 1041.2V1016.79M370.4 1041.2V1016.79M378.4 1041.2V1016.79M386.4 1041.2V1016.79M394.4 1041.2V1016.79M402.4 1041.2V1016.79M410.4 1041.2V1016.79M418.4 1041.2V1016.79M426.4 1041.2V1016.79M434.4 1041.2V1016.79M442.4 1041.2V1016.79M450.4 1041.2V1016.79M458.4 1041.2V1016.79M466.4 1041.2V1016.79M474.4 1041.2V1016.79M482.4 1041.2V1016.79M490.4 1041.2V1016.79M498.4 1041.2V1016.79M506.4 1041.2V1016.79M514.4 1041.2V1016.79M522.4 1041.2V1016.79M530.4 1041.2V1016.79M538.4 1041.2V1016.79M546.4 1041.2V1016.79M554.4 1041.2V1016.79M562.4 1041.2V1016.79M570.4 1041.2V1016.79M578.4 1041.2V1016.79M586.4 1041.2V1016.79M594.4 1041.2V1016.79M602.4 1041.2V1016.79M610.4 1041.2V1016.79M618.4 1041.2V1016.79M626.4 1041.2V1016.79M634.4 1041.2V1016.79M642.4 1041.2V1016.79M650.4 1041.2V1016.79M658.4 1041.2V1016.79M666.4 1041.2V1016.79M674.4 1041.2V1016.79M682.4 1041.2V1016.79M690.4 1041.2V1016.79M698.4 1041.2V1016.79M706.4 1041.2V1016.79M714.4 1041.2V1016.79M722.4 1041.2V1016.79M730.4 1041.2V1016.79M994.4 992.39V967.98M338.4 1041.2H738.4M994.4 992.39H1002.4"/>
<path stroke="#f9d8cc" stroke-width="0.6" d="M338.4 1016.79V992.39M346.4 1016.79V992.39M354.4 1016.79V992.39M362.4 1016.79V992.39M370.4 1016.79V992.39M378.4 1016.79V992.39M386.4 1016.79V992.39M394.4 1016.79V992.39M402.4 1016.79V992.39M410.4 1016.79V992.39M418.4 1016.79V992.39M426.4 1016.79V992.39M434.4 1016.79V992.39M442.4 1016.79V992.39M450.4 1016.79V992.39M458.4 1016.79V992.39M466.4 1016.79V992.39M474.4 1016.79V992.39M482.4 1016.79V992.39M490.4 1016.79V992.39M498.4 1016.79V992.39M506.4 1016.79V992.39M514.4 1016.79V992.39M522.4 1016.79V992.39M530.4 1016.79V992.39M538.4 1016.79V992.39M602.4 1016.79V992.39M610.4 1016.79V992.39M618.4 1016.79V992.39M626.4 1016.79V992.39M634.4 1016.79V992.39M642.4 1016.79V992.39M650.4 1016.79V992.39M658.4 1016.79V992.39M666.4 1016.79V992.39M674.4 1016.79V992.39M682.4 1016.79V992.39M690.4 1016.79V992.39M698.4 1016.79V992.39M706.4 1016.79V992.39M714.4 1016.79V992.39M722.4 1016.79V992.39M730.4 1016.79V992.39M738.4 1016.79V992.39M746.4 1016.79V992.39M754.4 1016.79V992.39M762.4 1016.79V992.39M770.4 1016.79V992.39M778.4 1016.79V992.39M786.4 1016.79V992.39M794.4 1016.79V992.39M802.4 1016.79V992.39M810.4 1016.79V992.39M818.4 1016.79V992.39M826.4 1016.79V992.39M834.4 1016.79V992.39M1034.4 1016.79V992.39M1042.4 1016.79V992.39M1050.4 1016.79V992.39M1162.4 1041.2V1016.79M1170.4 1041.2V1016.79M1178.4 1065.6V1041.2M1186.4 1065.6V1041.2M1194.4 1065.6V1041.2M1178.4 1065.6H1202.4M1162.4 1041.2H1178.4M338.4 1016.79H546.4M602.4 1016.79H842.4M1034.4 1016.79H1058.4"/>
<path stroke="#faf7ff" stroke-width="0.6" d="M338.4 845.96V821.55M346.4 845.96V821.55M354.4 845.96V821.55M362.4 845.96V821.55M370.4 845.96V821.55M378.4 845.96V821.55M386.4 845.96V821.55M394.4 845.96V821.55M402.4 845.96V821.55M410.4 845.96V821.55M418.4 845.96V821.55M426.4 845.96V821.55M434.4 845.96V821.55M442.4 845.96V821.55M450.4 845.96V821.55M458.4 845.96V821.55M466.4 845.96V821.55M474.4 845.96V821.55M482.4 845.96V821.55M490.4 845.96V821.55M498.4 845.96V821.55M506.4 845.96V821.55M514.4 845.96V821.55M522.4 845.96V821.55M530.4 845.96V821.55M538.4 845.96V821.55M546.4 845.96V821.55M554.4 845.96V821.55M562.4 845.96V821.55M570.4 845.96V821.55M578.4 845.96V821.55M586.4 845.96V821.55M594.4 845.96V821.55M602.4 845.96V821.55M610.4 845.96V821.55M618.4 845.96V821.55M626.4 845.96V821.55M634.4 845.96V821.55M642.4 845.96V821.55M650.4 845.96V821.55M658.4 845.96V821.55M666.4 845.96V821.55M674.4 845.96V821.55M682.4 845.96V821.55M690.4 845.96V821.55M698.4 845.96V821.55M706.4 845.96V821.55M714.4 845.96V821.55M722.4 845.96V821.55M730.4 845.96V821.55M738.4 845.96V821.55M746.4 845.96V821.55M754.4 845.96V821.55M762.4 845.96V821.55M770.4 845.96V821.55M778.4 845.96V821.55M786.4 845.96V821.55M794.4 845.96V821.55M802.4 845.96V821.55M810.4 845.96V821.55M818.4 845.96V821.55M826.4 845.96V821.55M834.4 845.96V821.55M842.4 845.96V821.55M850.4 845.96V821.55M858.4 845.96V821.55M866.4 845.96V821.55M874.4 845.96V821.55M882.4 845.96V821.55M890.4 845.96V821.55M898.4 845.96V821.55M906.4 845.96V821.55M914.4 845.96V821.55M922.4 845.96V821.55M930.4 845.96V821.55M938.4 845.96V821.55M946.4 845.96V821.55M954.4 845.96V821.55M962.4 845.96V821.55M970.4 845.96V821.55M978.4 845.96V821.55M986.4 845.96V821.55M994.4 845.96V821.55M1002.4 845.96V821.55M1010.4 845.96V821.55M1018.4 845.96V821.55M1026.4 845.96V821.55M1114.4 894.77V870.36M1122.4 894.77V870.36M1130.4 894.77V870.36M1138.4 894.77V870.36M1146.4 894.77V870.36M1154.4 894.77V870.36M1162.4 894.77V870.36M1170.4 894.77V870.36M1178.4 894.77V870.36M1186.4 894.77V870.36M1194.4 894.77V870.36M1202.4 894.77V870.36M1210.4 894.77V870.36M1218.4 894.77V870.36M1226.4 894.77V870.36M1234.4 894.77V870.36M1242.4 894.77V870.36M1250.4 894.77V870.36M1258.4 894.77V870.36M1266.4 894.77V870.36M1274.4 894.77V870.36M1282.4 894.77V870.36M1290.4 894.77V870.36M1298.4 894.77V870.36M1306.4 894.77V870.36M1314.4 894.77V870.36M1322.4 894.77V870.36M1330.4 894.77V870.36M1338.4 894.77V870.36M1346.4 894.77V870.36M1354.4 894.77V870.36M1362.4 894.77V870.36M1370.4 894.77V870.36M1378.4 894.77V870.36M1386.4 894.77V870.36M1394.4 894.77V870.36M1403.4 894.77V870.36M1114.4 894.77H1403.4M338.4 845.96H1034.4"/>
<path stroke="#9272f6" stroke-width="0.6" d="M530.4 1309.65V1212.03M530.4 1309.65H538.4M530.4 1285.25H538.4M530.4 1260.84H538.4M530.4 1236.44H538.4"/>
<path stroke="#9979f6" stroke-width="0.6" d="M530.4 1212.03V1187.62M1034.4 943.58V919.17M1042.4 943.58V919.17M1050.4 943.58V919.17M530.4 1212.03H538.4M1034.4 943.58H1058.4"/>
<path stroke="#ac8ff8" stroke-width="0.6" d="M530.4 1187.62V1163.22M546.4 1309.65V1212.03M546.4 1309.65H554.4M546.4 1285.25H554.4M546.4 1260.84H554.4M546.4 1236.44H554.4M530.4 1187.62H538.4"/>
<path stroke="#d5c2fb" stroke-width="0.6" d="M530.4 1163.22V1138.82M530.4 1163.22H538.4"/>
<path stroke="#a688f7" stroke-width="0.6" d="M538.4 1212.03V1187.62M538.4 1212.03H546.4"/>
<path stroke="#b89df9" stroke-width="0.6" d="M538.4 1187.62V1163.22M538.4 1187.62H546.4"/>
<path stroke="#e0d1fc" stroke-width="0.6" d="M538.4 1163.22V1138.82M578.4 1212.03V1187.62M1162.4 967.98V943.58M1170.4 967.98V943.58M578.4 1212.03H586.4M538.4 1163.22H546.4M1162.4 967.98H1178.4"/>
<path stroke="#b296f8" stroke-width="0.6" d="M546.4 1212.03V1187.62M546.4 1212.03H554.4"/>
<path stroke="#eae1fd" stroke-width="0.6" d="M546.4 1163.22V1138.82M1058.4 845.96V821.55M1066.4 845.96V821.55M1074.4 845.96V821.55M1082.4 845.96V821.55M1090.4 845.96V821.55M1098.4 845.96V821.55M1106.4 845.96V821.55M1114.4 845.96V821.55M1122.4 845.96V821.55M1130.4 845.96V821.55M1138.4 845.96V821.55M1146.4 845.96V821.55M1154.4 845.96V821.55M1162.4 845.96V821.55M1170.4 845.96V821.55M1178.4 845.96V821.55M1186.4 845.96V821.55M1194.4 845.96V821.55M1202.4 845.96V821.55M1210.4 845.96V821.55M1218.4 845.96V821.55M1226.4 845.96V821.55M1234.4 845.96V821.55M1242.4 845.96V821.55M1250.4 845.96V821.55M1258.4 845.96V821.55M1266.4 845.96V821.55M1274.4 845.96V821.55M1282.4 845.96V821.55M1290.4 845.96V821.55M1298.4 845.96V821.55M1306.4 845.96V821.55M1314.4 845.96V821.55M1322.4 845.96V821.55M1330.4 845.96V821.55M1338.4 845.96V821.55M1346.4 845.96V821.55M1354.4 845.96V821.55M1362.4 845.96V821.55M1370.4 845.96V821.55M1378.4 845.96V821.55M1386.4 845.96V821.55M1394.4 845.96V821.55M1403.4 845.96V821.55M546.4 1163.22H554.4M1058.4 845.96H1403.4"/>
<path stroke="#f6bfad" stroke-width="0.6" d="M546.4 1065.6V1041.2M554.4 1065.6V1041.2M562.4 1065.6V1041.2M570.4 1065.6V1041.2M578.4 1065.6V1041.2M586.4 1065.6V1041.2M594.4 1065.6V1041.2M602.4 1065.6V1041.2M610.4 1065.6V1041.2M618.4 1065.6V1041.2M626.4 1065.6V1041.2M634.4 1065.6V1041.2M642.4 1065.6V1041.2M650.4 1065.6V1041.2M658.4 1065.6V1041.2M666.4 1065.6V1041.2M674.4 1065.6V1041.2M682.4 1065.6V1041.2M690.4 1065.6V1041.2M698.4 1065.6V1041.2M706.4 1065.6V1041.2M714.4 1065.6V1041.2M722.4 1065.6V1041.2M730.4 1065.6V1041.2M810.4 1041.2V1016.79M818.4 1041.2V1016.79M826.4 1041.2V1016.79M834.4 1041.2V1016.79M842.4 1041.2V1016.79M850.4 1041.2V1016.79M858.4 1041.2V1016.79M866.4 1041.2V1016.79M874.4 1041.2V1016.79M546.4 1065.6H738.4M810.4 1041.2H882.4"/>
<path stroke="#f8cec0" stroke-width="0.6" d="M546.4 1016.79V992.39M554.4 1016.79V992.39M562.4 1016.79V992.39M570.4 1016.79V992.39M578.4 1016.79V992.39M586.4 1016.79V992.39M594.4 1016.79V992.39M994.4 1016.79V992.39M1002.4 1016.79V992.39M1010.4 1016.79V992.39M1018.4 1016.79V992.39M1026.4 1016.79V992.39M1154.4 1065.6V1041.2M1162.4 1065.6V1041.2M1154.4 1065.6H1170.4M546.4 1016.79H602.4M994.4 1016.79H1034.4"/>
<path stroke="#f8d2c4" stroke-width="0.6" d="M546.4 992.39V967.98M554.4 992.39V967.98M562.4 992.39V967.98M570.4 992.39V967.98M578.4 992.39V967.98M586.4 992.39V967.98M594.4 992.39V967.98M602.4 992.39V967.98M610.4 992.39V967.98M618.4 992.39V967.98M626.4 992.39V967.98M634.4 992.39V967.98M642.4 992.39V967.98M650.4 992.39V967.98M658.4 992.39V967.98M666.4 992.39V967.98M674.4 992.39V967.98M682.4 992.39V967.98M690.4 992.39V967.98M698.4 992.39V967.98M706.4 992.39V967.98M714.4 992.39V967.98M722.4 992.39V967.98M730.4 992.39V967.98M738.4 992.39V967.98M746.4 992.39V967.98M754.4 992.39V967.98M762.4 992.39V967.98M770.4 992.39V967.98M778.4 992.39V967.98M786.4 992.39V967.98M794.4 992.39V967.98M802.4 992.39V967.98M810.4 992.39V967.98M818.4 992.39V967.98M826.4 992.39V967.98M834.4 992.39V967.98M842.4 992.39V967.98M850.4 992.39V967.98M858.4 992.39V967.98M866.4 992.39V967.98M874.4 992.39V967.98M882.4 992.39V967.98M890.4 992.39V967.98M954.4 870.36V845.96M962.4 870.36V845.96M970.4 870.36V845.96M978.4 870.36V845.96M986.4 870.36V845.96M994.4 870.36V845.96M1002.4 870.36V845.96M1010.4 870.36V845.96M1018.4 870.36V845.96M1026.4 870.36V845.96M1058.4 1309.65V1065.6M1058.4 1041.2V1016.79M1066.4 1309.65V1065.6M1074.4 1309.65V1065.6M1082.4 1309.65V1065.6M1090.4 1309.65V1065.6M1098.4 1309.65V1065.6M1106.4 1309.65V1065.6M1114.4 1309.65V1065.6M1122.4 1309.65V1065.6M1130.4 1309.65V1065.6M1138.4 1309.65V1065.6M1146.4 1309.65V1065.6M1058.4 1309.65H1154.4M1058.4 1285.25H1154.4M1058.4 1260.84H1154.4M1058.4 1236.44H1154.4M1058.4 1212.03H1154.4M1058.4 1187.62H1154.4M1058.4 1163.22H1154.4M1058.4 1138.82H1154.4M1058.4 1114.41H1154.4M1058.4 1090.01H1154.4M1058.4 1041.2H1066.4M546.4 992.39H898.4M954.4 870.36H1034.4"/>
<path stroke="#b89df9" stroke-width="0.6" d="M554.4 1309.65V1212.03M554.4 1309.65H562.4M554.4 1285.25H562.4M554.4 1260.84H562.4M554.4 1236.44H562.4"/>
<path stroke="#bfa5f9" stroke-width="0.6" d="M554.4 1212.03V1187.62M1034.4 967.98V943.58M1042.4 967.98V943.58M1050.4 967.98V943.58M554.4 1212.03H562.4M1034.4 967.98H1058.4"/>
<path stroke="#d0bbfb" stroke-width="0.6" d="M554.4 1187.62V1163.22M570.4 1309.65V1212.03M570.4 1309.65H578.4M570.4 1285.25H578.4M570.4 1260.84H578.4M570.4 1236.44H578.4M554.4 1187.62H562.4"/>
<path stroke="#c5acfa" stroke-width="0.6" d="M562.4 1309.65V1212.03M562.4 1309.65H570.4M562.4 1285.25H570.4M562.4 1260.84H570.4M562.4 1236.44H570.4"/>
<path stroke="#cbb3fa" stroke-width="0.6" d="M562.4 1212.03V1187.62M562.4 1212.03H570.4"/>
<path stroke="#dbcafc" stroke-width="0.6" d="M562.4 1187.62V1163.22M562.4 1187.62H570.4"/>
<path stroke="#d5c2fb" stroke-width="0.6" d="M570.4 1212.03V1187.62M570.4 1212.03H578.4"/>
<path stroke="#dbcafc" stroke-width="0.6" d="M578.4 1309.65V1212.03M578.4 1309.65H586.4M578.4 1285.25H586.4M578.4 1260.84H586.4M578.4 1236.44H586.4"/>
<path stroke="#e5d9fd" stroke-width="0.6" d="M586.4 1309.65V1212.03M586.4 1309.65H594.4M586.4 1285.25H594.4M586.4 1260.84H594.4M586.4 1236.44H594.4"/>
<path stroke="#eae1fd" stroke-width="0.6" d="M586.4 1212.03V1187.62M586.4 1212.03H594.4"/>
<path stroke="#f2ecfe" stroke-width="0.6" d="M602.4 1309.65V1138.82M610.4 1309.65V1138.82M618.4 1309.65V1138.82M626.4 1309.65V1138.82M634.4 1309.65V1138.82M642.4 1309.65V1138.82M650.4 1309.65V1138.82M658.4 1309.65V1138.82M666.4 1309.65V1138.82M674.4 1309.65V1138.82M682.4 1309.65V1138.82M690.4 1309.65V1138.82M698.4 1309.65V1138.82M706.4 1309.65V1138.82M714.4 1309.65V1138.82M722.4 1309.65V1138.82M730.4 1309.65V1138.82M898.4 919.17V894.77M906.4 919.17V894.77M914.4 919.17V894.77M922.4 919.17V894.77M930.4 919.17V894.77M938.4 919.17V894.77M946.4 919.17V894.77M954.4 919.17V894.77M962.4 919.17V894.77M970.4 919.17V894.77M978.4 919.17V894.77M986.4 919.17V894.77M1082.4 992.39V967.98M1090.4 992.39V967.98M1098.4 992.39V967.98M1106.4 992.39V967.98M1114.4 992.39V967.98M1122.4 992.39V967.98M1130.4 992.39V967.98M1138.4 992.39V967.98M1146.4 992.39V967.98M1154.4 1016.79V967.98M1162.4 1016.79V992.39M1170.4 1016.79V992.39M602.4 1309.65H738.4M602.4 1285.25H738.4M602.4 1260.84H738.4M602.4 1236.44H738.4M602.4 1212.03H738.4M602.4 1187.62H738.4M602.4 1163.22H738.4M1154.4 1016.79H1178.4M1082.4 992.39H1162.4M898.4 919.17H994.4"/>
<path stroke="#f5b8a5" stroke-width="0.6" d="M738.4 1309.65V1065.6M746.4 1309.65V1065.6M754.4 1309.65V1065.6M762.4 1309.65V1065.6M770.4 1309.65V1065.6M778.4 1309.65V1065.6M786.4 1309.65V1065.6M794.4 1309.65V1065.6M802.4 1309.65V1065.6M810.4 1309.65V1065.6M818.4 1309.65V1065.6M826.4 1309.65V1065.6M834.4 1309.65V1065.6M842.4 1309.65V1065.6M850.4 1309.65V1065.6M858.4 1309.65V1065.6M866.4 1309.65V1065.6M874.4 1309.65V1065.6M882.4 1309.65V1065.6M890.4 1309.65V1065.6M898.4 1309.65V1065.6M898.4 992.39V967.98M906.4 1309.65V1065.6M914.4 1309.65V1065.6M922.4 1309.65V1065.6M930.4 1309.65V1065.6M938.4 1309.65V1065.6M946.4 1309.65V1065.6M954.4 1309.65V1065.6M962.4 1309.65V1065.6M970.4 1309.65V1065.6M978.4 1309.65V1065.6M986.4 1309.65V1065.6M994.4 1309.65V1065.6M1002.4 1309.65V1065.6M1010.4 1309.65V1065.6M1018.4 1309.65V1065.6M1026.4 1309.65V1065.6M1034.4 1309.65V1065.6M1042.4 1309.65V1065.6M1050.4 1309.65V1065.6M738.4 1309.65H1058.4M738.4 1285.25H1058.4M738.4 1260.84H1058.4M738.4 1236.44H1058.4M738.4 1212.03H1058.4M738.4 1187.62H1058.4M738.4 1163.22H1058.4M738.4 1138.82H1058.4M738.4 1114.41H1058.4M738.4 1090.01H1058.4M898.4 992.39H906.4"/>
<path stroke="#f5bba9" stroke-width="0.6" d="M738.4 1065.6V1041.2M746.4 1065.6V1041.2M754.4 1065.6V1041.2M762.4 1065.6V1041.2M770.4 1065.6V1041.2M778.4 1065.6V1041.2M786.4 1065.6V1041.2M794.4 1065.6V1041.2M802.4 1065.6V1041.2M946.4 992.39V967.98M954.4 992.39V967.98M962.4 992.39V967.98M970.4 992.39V967.98M978.4 992.39V967.98M986.4 992.39V967.98M738.4 1065.6H810.4M946.4 992.39H994.4"/>
<path stroke="#f4b5a1" stroke-width="0.6" d="M810.4 1065.6V1041.2M818.4 1065.6V1041.2M826.4 1065.6V1041.2M834.4 1065.6V1041.2M842.4 1065.6V1041.2M882.4 1041.2V1016.79M890.4 1041.2V1016.79M906.4 992.39V967.98M914.4 992.39V967.98M922.4 992.39V967.98M930.4 992.39V967.98M938.4 992.39V967.98M1002.4 1041.2V1016.79M1010.4 1041.2V1016.79M1018.4 1041.2V1016.79M1026.4 1041.2V1016.79M1034.4 1041.2V1016.79M1042.4 1041.2V1016.79M1050.4 1041.2V1016.79M1058.4 1065.6V1041.2M1066.4 1065.6V1041.2M1074.4 1065.6V1041.2M1090.4 1065.6V1041.2M810.4 1065.6H850.4M1058.4 1065.6H1082.4M1090.4 1065.6H1098.4M882.4 1041.2H898.4M1002.4 1041.2H1058.4M906.4 992.39H946.4"/>
<path stroke="#f3ab94" stroke-width="0.6" d="M850.4 1065.6V1041.2M858.4 1065.6V1041.2M866.4 1065.6V1041.2M874.4 1065.6V1041.2M882.4 1065.6V1041.2M890.4 1065.6V1041.2M970.4 1016.79V992.39M978.4 1016.79V992.39M986.4 1016.79V992.39M850.4 1065.6H898.4M970.4 1016.79H994.4"/>
<path stroke="#f29e85" stroke-width="0.6" d="M898.4 1065.6V1041.2M906.4 1065.6V1041.2M946.4 1065.6V1041.2M954.4 1065.6V1041.2M962.4 1065.6V1041.2M994.4 1065.6V1041.2M898.4 1065.6H914.4M946.4 1065.6H970.4M994.4 1065.6H1002.4"/>
<path stroke="#f2a48c" stroke-width="0.6" d="M898.4 1041.2V1016.79M906.4 1041.2V1016.79M914.4 1041.2V1016.79M922.4 1041.2V1016.79M930.4 1041.2V1016.79M938.4 1041.2V1016.79M946.4 1041.2V1016.79M954.4 1041.2V1016.79M962.4 1041.2V1016.79M970.4 1041.2V1016.79M978.4 1041.2V1016.79M986.4 1041.2V1016.79M994.4 1041.2V1016.79M898.4 1041.2H1002.4"/>
<path stroke="#f4b29c" stroke-width="0.6" d="M898.4 1016.79V992.39M946.4 1016.79V992.39M954.4 1016.79V992.39M962.4 1016.79V992.39M898.4 1016.79H906.4M946.4 1016.79H970.4"/>
<path stroke="#f3a890" stroke-width="0.6" d="M906.4 1016.79V992.39M914.4 1016.79V992.39M922.4 1016.79V992.39M930.4 1016.79V992.39M938.4 1016.79V992.39M1002.4 1065.6V1041.2M1010.4 1065.6V1041.2M1018.4 1065.6V1041.2M1026.4 1065.6V1041.2M1034.4 1065.6V1041.2M1042.4 1065.6V1041.2M1050.4 1065.6V1041.2M1082.4 1065.6V1041.2M1098.4 1065.6V1041.2M1002.4 1065.6H1058.4M1082.4 1065.6H1090.4M1098.4 1065.6H1106.4M906.4 1016.79H946.4"/>
<path stroke="#ede4fe" stroke-width="0.6" d="M906.4 967.98V943.58M914.4 967.98V943.58M922.4 967.98V943.58M930.4 967.98V943.58M938.4 967.98V943.58M946.4 967.98V943.58M954.4 967.98V943.58M962.4 967.98V943.58M970.4 967.98V943.58M978.4 967.98V943.58M986.4 967.98V943.58M906.4 967.98H994.4"/>
<path stroke="#f1997e" stroke-width="0.6" d="M914.4 1065.6V1041.2M922.4 1065.6V1041.2M970.4 1065.6V1041.2M978.4 1065.6V1041.2M986.4 1065.6V1041.2M914.4 1065.6H930.4M970.4 1065.6H994.4"/>
<path stroke="#f19c82" stroke-width="0.6" d="M930.4 1065.6V1041.2M938.4 1065.6V1041.2M930.4 1065.6H946.4"/>
<path stroke="#fae1d7" stroke-width="0.6" d="M1002.4 992.39V967.98M1066.4 1016.79V992.39M1074.4 1016.79V992.39M1082.4 1016.79V992.39M1090.4 1016.79V992.39M1098.4 1016.79V992.39M1066.4 1016.79H1106.4M1002.4 992.39H1010.4"/>
<path stroke="#d8c6fc" stroke-width="0.6" d="M1002.4 967.98V943.58M1010.4 967.98V943.58M1018.4 967.98V943.58M1026.4 967.98V943.58M1058.4 992.39V967.98M1066.4 992.39V967.98M1074.4 992.39V967.98M1058.4 992.39H1082.4M1002.4 967.98H1034.4"/>
<path stroke="#c8affa" stroke-width="0.6" d="M1002.4 943.58V919.17M1010.4 943.58V919.17M1018.4 943.58V919.17M1026.4 943.58V919.17M1210.4 1065.6V992.39M1210.4 1065.6H1218.4M1210.4 1041.2H1218.4M1210.4 1016.79H1218.4M1002.4 943.58H1034.4"/>
<path stroke="#ddcefc" stroke-width="0.6" d="M1002.4 919.17V894.77M1010.4 919.17V894.77M1018.4 919.17V894.77M1026.4 919.17V894.77M1034.4 919.17V894.77M1042.4 919.17V894.77M1050.4 919.17V894.77M1178.4 1016.79V967.98M1186.4 1016.79V967.98M1194.4 1016.79V992.39M1202.4 1065.6V992.39M1210.4 992.39V967.98M1218.4 1065.6V967.98M1226.4 1065.6V967.98M1234.4 1065.6V967.98M1242.4 1065.6V967.98M1202.4 1065.6H1210.4M1218.4 1065.6H1250.4M1202.4 1041.2H1210.4M1218.4 1041.2H1250.4M1178.4 1016.79H1210.4M1218.4 1016.79H1250.4M1178.4 992.39H1194.4M1210.4 992.39H1250.4M1002.4 919.17H1058.4"/>
<path stroke="#ffffff" stroke-width="0.6" d="M1010.4 992.39V967.98M1018.4 992.39V967.98M1026.4 992.39V967.98M1058.4 1016.79V992.39M1058.4 1016.79H1066.4M1010.4 992.39H1034.4"/>
<path stroke="#fceae3" stroke-width="0.6" d="M1034.4 894.77V870.36M1034.4 845.96V821.55M1042.4 894.77V870.36M1042.4 845.96V821.55M1050.4 894.77V870.36M1050.4 845.96V821.55M1154.4 1309.65V1065.6M1162.4 1309.65V1065.6M1170.4 1309.65V1065.6M1178.4 1309.65V1065.6M1186.4 1309.65V1065.6M1194.4 1309.65V1065.6M1194.4 1041.2V1016.79M1154.4 1309.65H1202.4M1154.4 1285.25H1202.4M1154.4 1260.84H1202.4M1154.4 1236.44H1202.4M1154.4 1212.03H1202.4M1154.4 1187.62H1202.4M1154.4 1163.22H1202.4M1154.4 1138.82H1202.4M1154.4 1114.41H1202.4M1154.4 1090.01H1202.4M1194.4 1041.2H1202.4M1034.4 894.77H1058.4M1034.4 845.96H1058.4"/>
<path stroke="#f7c8b9" stroke-width="0.6" d="M1034.4 870.36V845.96M1042.4 870.36V845.96M1050.4 870.36V845.96M1090.4 1041.2V1016.79M1098.4 1041.2V1016.79M1090.4 1041.2H1106.4M1034.4 870.36H1058.4"/>
<path stroke="#faded3" stroke-width="0.6" d="M1058.4 870.36V845.96M1066.4 870.36V845.96M1074.4 870.36V845.96M1082.4 870.36V845.96M1090.4 870.36V845.96M1098.4 870.36V845.96M1106.4 870.36V845.96M1114.4 870.36V845.96M1122.4 870.36V845.96M1130.4 870.36V845.96M1138.4 870.36V845.96M1146.4 870.36V845.96M1154.4 870.36V845.96M1162.4 870.36V845.96M1170.4 870.36V845.96M1178.4 870.36V845.96M1186.4 870.36V845.96M1194.4 870.36V845.96M1202.4 870.36V845.96M1210.4 870.36V845.96M1218.4 870.36V845.96M1226.4 870.36V845.96M1234.4 870.36V845.96M1242.4 870.36V845.96M1250.4 870.36V845.96M1258.4 870.36V845.96M1266.4 870.36V845.96M1274.4 870.36V845.96M1282.4 870.36V845.96M1290.4 870.36V845.96M1298.4 870.36V845.96M1306.4 870.36V845.96M1314.4 870.36V845.96M1322.4 870.36V845.96M1330.4 870.36V845.96M1338.4 870.36V845.96M1346.4 870.36V845.96M1354.4 870.36V845.96M1362.4 870.36V845.96M1370.4 870.36V845.96M1378.4 870.36V845.96M1386.4 870.36V845.96M1394.4 870.36V845.96M1403.4 870.36V845.96M1058.4 870.36H1403.4"/>
<path stroke="#f6c2b1" stroke-width="0.6" d="M1066.4 1041.2V1016.79M1074.4 1041.2V1016.79M1082.4 1041.2V1016.79M1106.4 1065.6V1041.2M1114.4 1065.6V1041.2M1122.4 1065.6V1041.2M1130.4 1065.6V1041.2M1138.4 1065.6V1041.2M1146.4 1065.6V1041.2M1170.4 1065.6V1041.2M1106.4 1065.6H1154.4M1170.4 1065.6H1178.4M1066.4 1041.2H1090.4"/>
<path stroke="#a284f7" stroke-width="0.6" d="M1066.4 943.58V919.17M1074.4 943.58V919.17M1082.4 943.58V919.17M1090.4 943.58V919.17M1098.4 943.58V919.17M1106.4 943.58V919.17M1114.4 943.58V919.17M1122.4 943.58V919.17M1130.4 943.58V919.17M1138.4 943.58V919.17M1146.4 943.58V919.17M1154.4 943.58V919.17M1066.4 943.58H1162.4"/>
<path stroke="#f8d5c8" stroke-width="0.6" d="M1106.4 1041.2V1016.79M1106.4 1041.2H1114.4"/>
<path stroke="#e2d5fd" stroke-width="0.6" d="M1114.4 919.17V894.77M1122.4 919.17V894.77M1130.4 919.17V894.77M1138.4 919.17V894.77M1146.4 919.17V894.77M1154.4 919.17V894.77M1162.4 919.17V894.77M1170.4 919.17V894.77M1178.4 919.17V894.77M1186.4 919.17V894.77M1194.4 919.17V894.77M1202.4 919.17V894.77M1210.4 919.17V894.77M1218.4 919.17V894.77M1226.4 919.17V894.77M1234.4 919.17V894.77M1242.4 919.17V894.77M1250.4 919.17V894.77M1258.4 919.17V894.77M1266.4 919.17V894.77M1274.4 919.17V894.77M1282.4 919.17V894.77M1290.4 919.17V894.77M1298.4 919.17V894.77M1306.4 919.17V894.77M1314.4 919.17V894.77M1322.4 919.17V894.77M1330.4 919.17V894.77M1338.4 919.17V894.77M1346.4 919.17V894.77M1354.4 919.17V894.77M1362.4 919.17V894.77M1370.4 919.17V894.77M1378.4 919.17V894.77M1386.4 919.17V894.77M1114.4 919.17H1394.4"/>
<path stroke="#fcede7" stroke-width="0.6" d="M1154.4 1041.2V1016.79M1162.4 992.39V967.98M1170.4 992.39V967.98M1154.4 1041.2H1162.4M1162.4 992.39H1178.4"/>
<path stroke="#f5f0fe" stroke-width="0.6" d="M1178.4 1041.2V1016.79M1186.4 1041.2V1016.79M1194.4 992.39V967.98M1202.4 992.39V967.98M1178.4 1041.2H1194.4M1194.4 992.39H1210.4"/>
<path stroke="#fcfbff" stroke-width="0.6" d="M1394.4 919.17V894.77M1403.4 919.17V894.77M1394.4 919.17H1403.4"/>
</g>
<path d="M1082 454L1071.66 563.27" stroke="#000" stroke-width="3.2" fill="none"/>
<path d="M1070.2 578.7L1062.74 560.42L1080.96 562.14Z" fill="#000"/>
<path d="M968.3 860.7L955.33 994.79" stroke="#000" stroke-width="4" fill="none"/>
<path d="M953.4 1014.7L944.32 991.72L966.72 993.89Z" fill="#000"/>
<rect x="963.3" y="534.4" width="239.7" height="249.8" fill="#75bb9d" fill-opacity="0.4"/>
<path d="M200 1024.8H942.3M941.8 1023.9V1312" stroke="#7dbea3" stroke-width="6" fill="none"/>
<text x="1038.5" y="408.8" font-size="27.4" text-anchor="middle">Region re-tested</text>
<text x="1008.4" y="838.1" font-size="27.4" text-anchor="middle">Original ALKATI filter</text>
<rect x="143.6" y="28.7" width="1318.9" height="1341.5" fill="none" stroke="#333" stroke-width="1.3"/>
<path d="M206.05 1370.2v5M606.05 1370.2v5M1006.05 1370.2v5M1406.05 1370.2v5M143.6 1299.94h-5M143.6 1055.89h-5M143.6 811.84h-5M143.6 567.79h-5M143.6 323.74h-5M143.6 79.69h-5" stroke="#333" stroke-width="1.4" fill="none"/>
<g class="b" font-size="37.2" fill="#000">
<text x="206.05" y="1403.6" text-anchor="middle">0</text>
<text x="606.05" y="1403.6" text-anchor="middle">500</text>
<text x="1006.05" y="1403.6" text-anchor="middle">1000</text>
<text x="1406.05" y="1403.6" text-anchor="middle">1500</text>
<text x="136.4" y="1312.84" text-anchor="end">0</text>
<text x="136.4" y="1068.79" text-anchor="end">100</text>
<text x="136.4" y="824.74" text-anchor="end">200</text>
<text x="136.4" y="580.69" text-anchor="end">300</text>
<text x="136.4" y="336.64" text-anchor="end">400</text>
<text x="136.4" y="92.59" text-anchor="end">500</text>
</g>
<text class="b" x="802.8" y="1438" font-size="37.3" text-anchor="middle">Number of ALK Reads</text>
<text class="b" transform="translate(67 699.3) rotate(-90)" font-size="36.67" text-anchor="middle">RSEM</text>
<text class="b" x="1484.9" y="620" font-size="43.33" textLength="167" lengthAdjust="spacingAndGlyphs">P−Value</text>
<rect x="1486" y="642.9" width="25" height="28.1" fill="#f2a188"/>
<text class="b" x="1531.2" y="669.05" font-size="34.6">0.1</text>
<rect x="1486" y="671" width="25" height="28.1" fill="#f6c2b1"/>
<text class="b" x="1531.2" y="697.15" font-size="34.6">0.2</text>
<rect x="1486" y="699.1" width="25" height="28.1" fill="#ffffff"/>
<text class="b" x="1531.2" y="725.25" font-size="34.6">0.4</text>
<rect x="1486" y="727.2" width="25" height="28.1" fill="#cbb3fa"/>
<text class="b" x="1531.2" y="753.35" font-size="34.6">0.6</text>
<rect x="1486" y="755.3" width="25" height="28.1" fill="#8c6bf5"/>
<text class="b" x="1531.2" y="781.45" font-size="34.6">0.8</text>
<rect x="1486" y="783.4" width="25" height="28.1" fill="#0a16f3"/>
<text class="b" x="1531.2" y="809.55" font-size="34.6">1.0</text>
</svg>
</body></html>
